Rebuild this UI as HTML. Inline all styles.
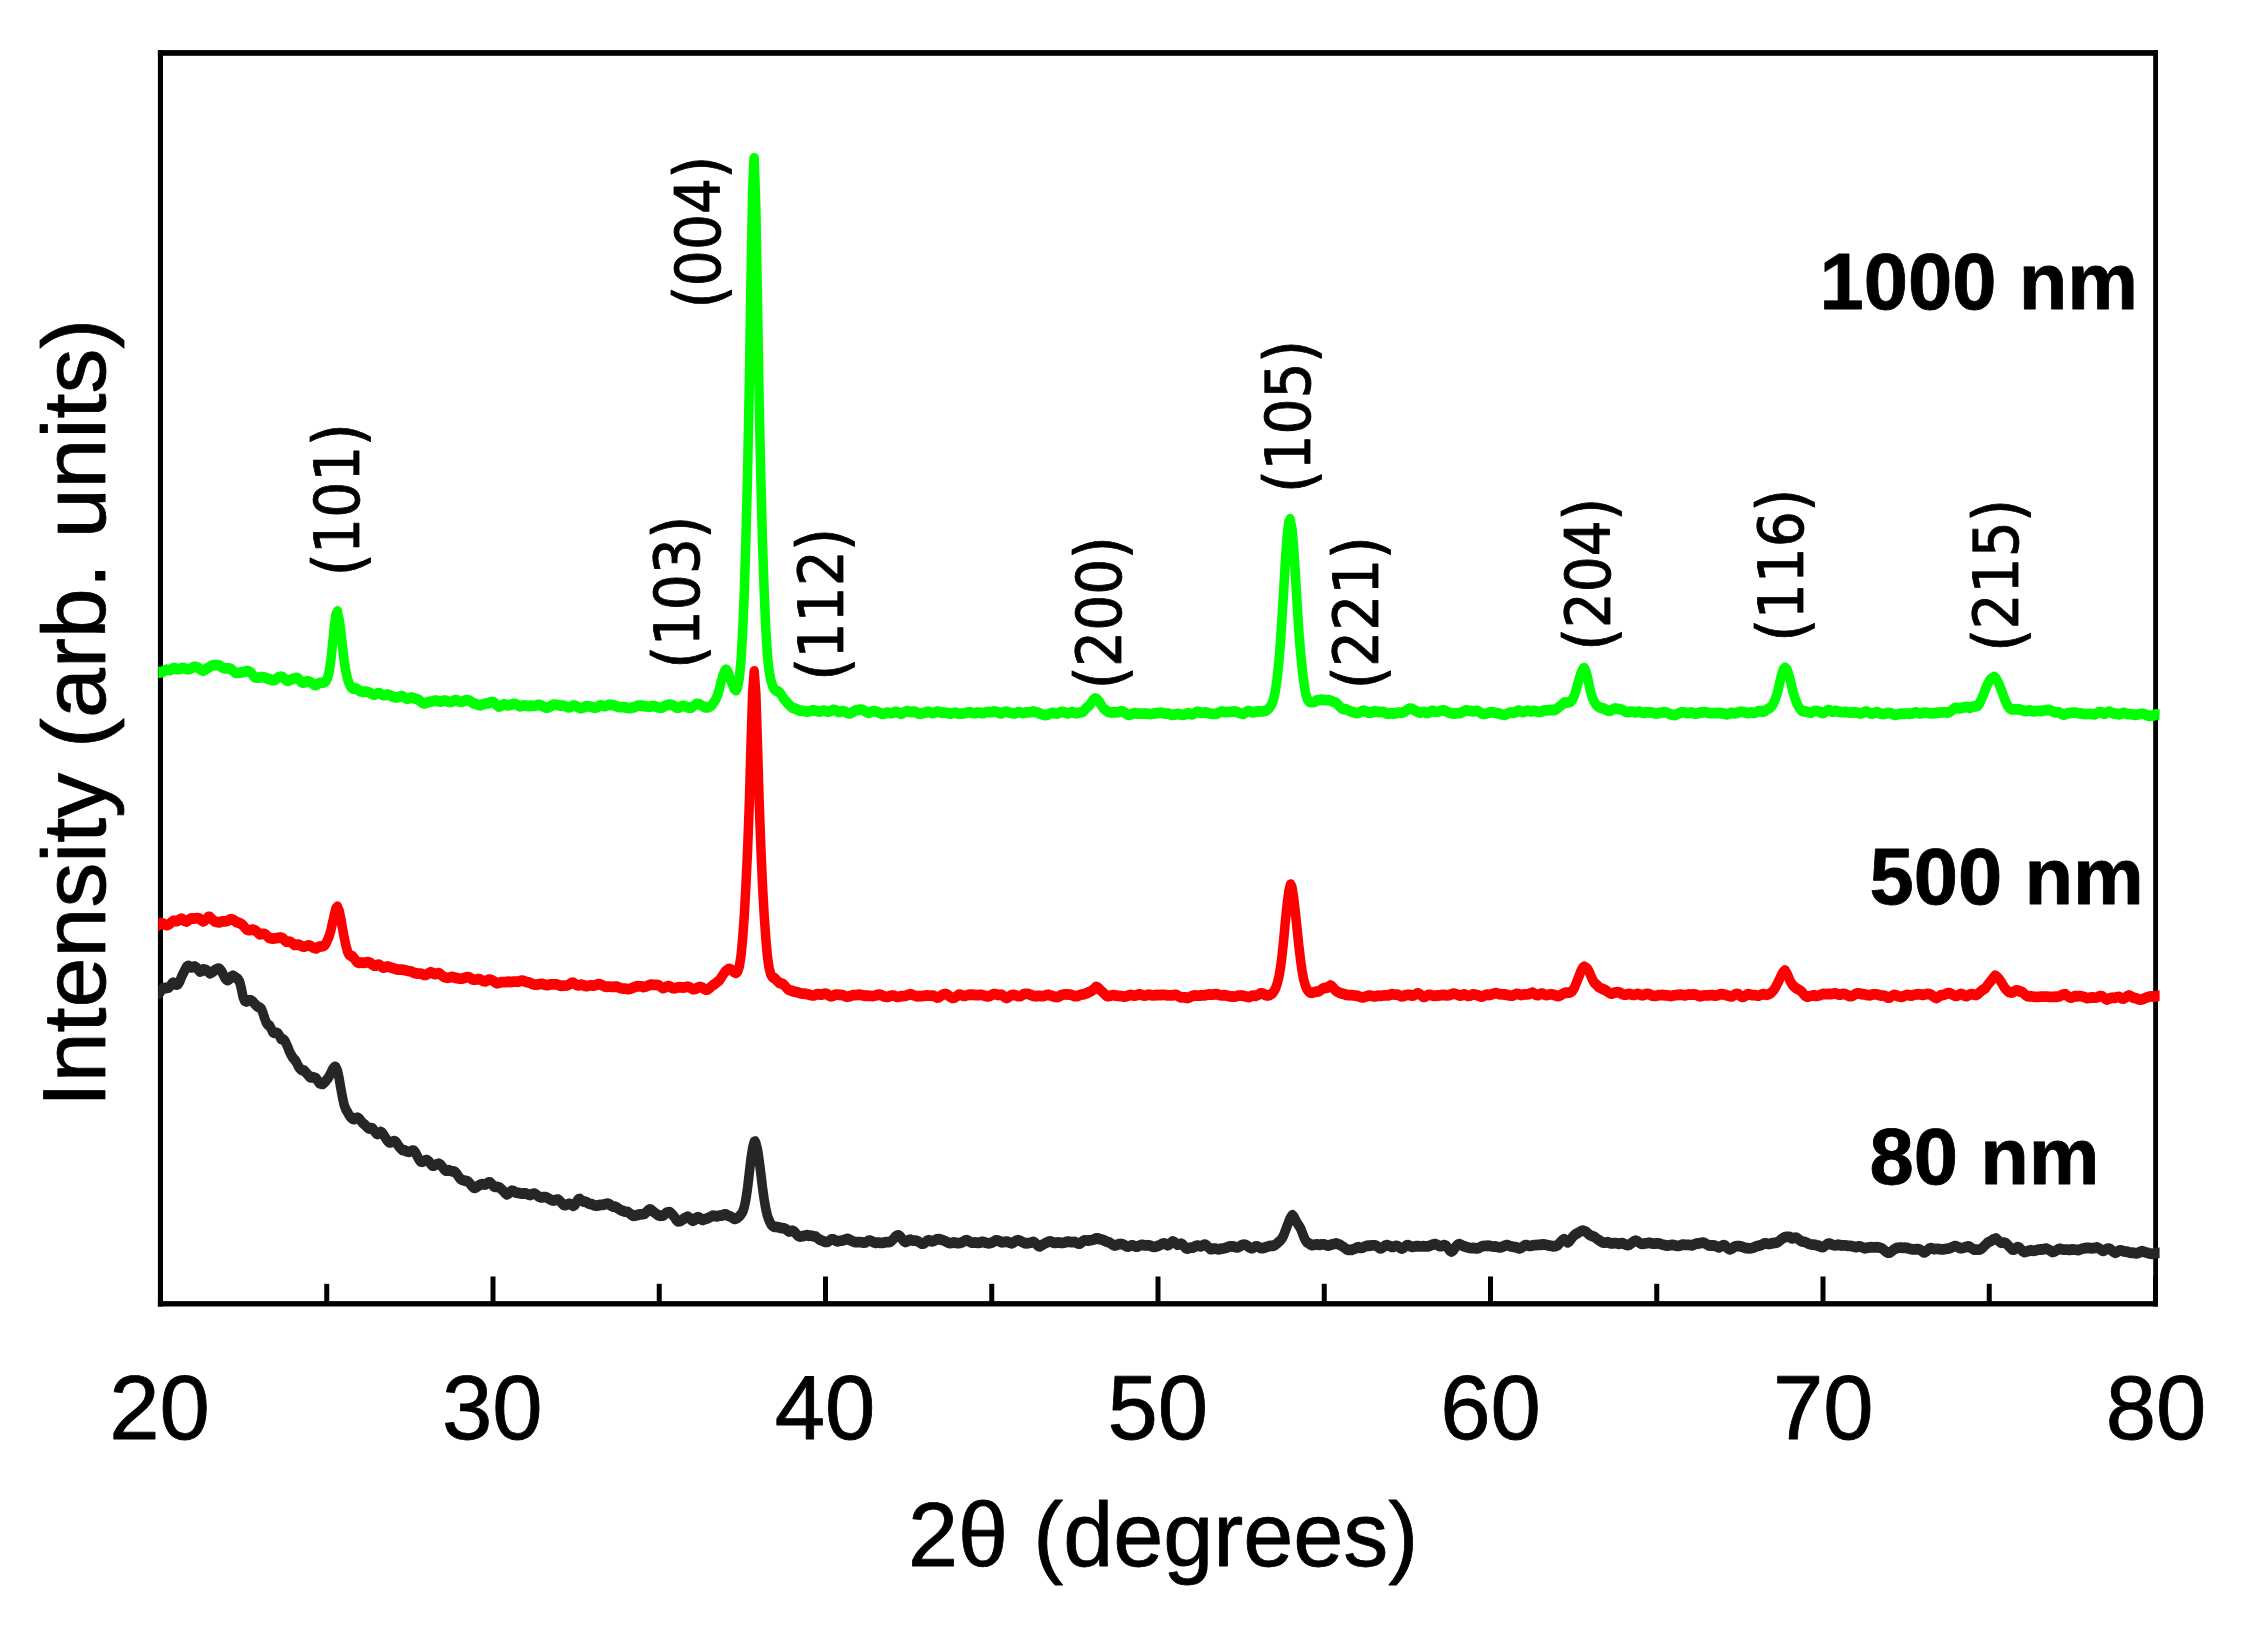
<!DOCTYPE html>
<html lang="en"><head><meta charset="utf-8"><title>XRD patterns</title>
<style>
html,body{margin:0;padding:0;background:#fff;}
body{width:2248px;height:1629px;overflow:hidden;}
svg{display:block;}
text{fill:#000;stroke:#000;stroke-width:0.8px;stroke-linejoin:round;}
.a{font-family:"Liberation Sans",Arial,Helvetica,sans-serif;}
.b{font-family:"Liberation Sans",Arial,Helvetica,sans-serif;font-weight:bold;}
.p{font-family:"DejaVu Sans Condensed","DejaVu Sans","Liberation Sans",sans-serif;font-stretch:condensed;}
</style></head><body>
<svg width="2248" height="1629" viewBox="0 0 2248 1629">
<rect x="0" y="0" width="2248" height="1629" fill="#fff"/>
<defs><clipPath id="cp"><rect x="158.3" y="40" width="2001.3" height="1270"/></clipPath></defs>
<rect x="157.9" y="50.1" width="5.1" height="1256.4" fill="#000"/>
<rect x="2153.2" y="50.1" width="4.8" height="1256.4" fill="#000"/>
<rect x="157.9" y="50.1" width="2000.1" height="5.7" fill="#000"/>
<rect x="157.9" y="1301.1" width="2000.1" height="5.4" fill="#000"/>
<rect x="158.00" y="1276.5" width="5" height="27.25" fill="#000"/>
<rect x="324.25" y="1283.8" width="5" height="19.95" fill="#000"/>
<rect x="490.50" y="1276.5" width="5" height="27.25" fill="#000"/>
<rect x="656.75" y="1283.8" width="5" height="19.95" fill="#000"/>
<rect x="823.00" y="1276.5" width="5" height="27.25" fill="#000"/>
<rect x="989.25" y="1283.8" width="5" height="19.95" fill="#000"/>
<rect x="1155.50" y="1276.5" width="5" height="27.25" fill="#000"/>
<rect x="1321.75" y="1283.8" width="5" height="19.95" fill="#000"/>
<rect x="1488.00" y="1276.5" width="5" height="27.25" fill="#000"/>
<rect x="1654.25" y="1283.8" width="5" height="19.95" fill="#000"/>
<rect x="1820.50" y="1276.5" width="5" height="27.25" fill="#000"/>
<rect x="1986.75" y="1283.8" width="5" height="19.95" fill="#000"/>
<rect x="2153.00" y="1276.5" width="5" height="27.25" fill="#000"/>
<g clip-path="url(#cp)"><g transform="scale(1,1.138)">
<path d="M150.0,875.77 L151.7,874.96 L153.3,873.83 L155.0,873.61 L156.6,873.62 L158.3,873.32 L160.0,871.96 L161.6,869.80 L163.3,868.28 L164.9,868.11 L166.6,868.19 L168.3,867.93 L169.9,866.85 L171.6,864.73 L173.2,863.62 L174.9,864.38 L176.6,865.22 L178.2,864.59 L179.9,862.13 L181.5,858.40 L183.2,855.29 L184.9,852.53 L186.5,849.81 L188.2,848.71 L189.8,849.40 L191.5,850.12 L193.2,849.57 L194.8,849.32 L196.5,850.18 L198.1,852.01 L199.8,853.79 L201.5,853.30 L203.1,851.93 L204.8,852.02 L206.4,852.53 L208.1,853.94 L209.8,855.25 L211.4,854.53 L213.1,853.72 L214.7,852.65 L216.4,851.74 L218.1,851.17 L219.7,851.52 L221.4,853.27 L223.0,855.79 L224.7,859.04 L226.4,860.95 L228.0,861.27 L229.7,860.09 L231.3,858.20 L233.0,857.40 L234.7,858.27 L236.3,859.36 L238.0,860.32 L239.6,862.62 L241.3,868.47 L243.0,875.88 L244.6,879.43 L246.3,880.05 L247.9,879.36 L249.6,878.84 L251.3,879.27 L252.9,880.17 L254.6,881.95 L256.2,883.53 L257.9,884.65 L259.6,885.31 L261.2,886.35 L262.9,889.86 L264.5,894.51 L266.2,898.50 L267.9,900.51 L269.5,901.25 L271.2,904.02 L272.8,906.95 L274.5,907.58 L276.2,907.62 L277.8,907.94 L279.5,910.21 L281.1,912.99 L282.8,913.27 L284.5,914.23 L286.1,916.83 L287.8,920.16 L289.4,923.90 L291.1,926.91 L292.8,929.40 L294.4,930.90 L296.1,932.88 L297.7,935.94 L299.4,938.37 L301.1,940.04 L302.7,940.45 L304.4,940.93 L306.0,942.57 L307.7,944.25 L309.4,946.11 L311.0,946.79 L312.7,946.55 L314.3,946.96 L316.0,947.49 L317.7,949.60 L319.3,951.70 L321.0,952.22 L322.6,952.47 L324.3,951.33 L326.0,949.70 L327.6,947.91 L329.3,945.57 L330.9,942.72 L332.6,939.67 L334.3,937.90 L334.8,937.48 L335.9,937.76 L337.6,941.41 L339.2,948.00 L340.9,956.69 L342.6,964.85 L344.2,971.10 L345.9,974.89 L347.5,977.21 L349.2,980.03 L350.9,981.87 L352.5,983.05 L354.2,983.47 L355.8,982.46 L357.5,982.22 L359.2,982.96 L360.8,984.69 L362.5,986.75 L364.1,987.91 L365.8,989.15 L367.5,990.73 L369.1,991.62 L370.8,991.29 L372.4,991.44 L374.1,993.44 L375.8,995.55 L377.4,996.45 L379.1,995.70 L380.7,994.66 L382.4,995.63 L384.1,997.88 L385.7,1000.14 L387.4,1002.36 L389.0,1003.74 L390.7,1003.85 L392.4,1003.37 L394.0,1002.78 L395.7,1003.07 L397.3,1005.11 L399.0,1007.54 L400.7,1009.27 L402.3,1010.49 L404.0,1010.79 L405.6,1011.25 L407.3,1012.06 L409.0,1012.16 L410.6,1011.72 L412.3,1011.15 L413.9,1011.20 L415.6,1013.01 L417.3,1016.04 L418.9,1018.80 L420.6,1020.60 L422.2,1020.87 L423.9,1020.15 L425.6,1019.49 L427.2,1019.47 L428.9,1020.61 L430.5,1022.60 L432.2,1024.23 L433.9,1024.30 L435.5,1023.56 L437.2,1023.03 L438.8,1022.63 L440.5,1023.38 L442.2,1025.21 L443.8,1027.10 L445.5,1028.61 L447.1,1028.75 L448.8,1028.36 L450.5,1028.88 L452.1,1029.30 L453.8,1029.37 L455.4,1030.08 L457.1,1031.83 L458.8,1034.19 L460.4,1035.95 L462.1,1036.76 L463.7,1037.21 L465.4,1037.76 L467.1,1037.95 L468.7,1038.73 L470.4,1040.57 L472.0,1042.33 L473.7,1043.57 L475.4,1043.78 L477.0,1042.92 L478.7,1041.79 L480.3,1040.99 L482.0,1040.50 L483.7,1040.67 L485.3,1040.84 L487.0,1039.90 L488.6,1038.93 L490.3,1039.09 L492.0,1040.59 L493.6,1042.48 L495.3,1043.03 L496.9,1042.99 L498.6,1043.32 L500.3,1044.00 L501.9,1045.32 L503.6,1046.78 L505.2,1048.52 L506.9,1049.57 L508.6,1048.81 L510.2,1047.33 L511.9,1046.29 L513.5,1046.64 L515.2,1047.79 L516.9,1048.15 L518.5,1048.22 L520.2,1048.57 L521.8,1048.79 L523.5,1048.78 L525.2,1048.64 L526.8,1048.98 L528.5,1049.83 L530.1,1050.07 L531.8,1049.35 L533.5,1048.83 L535.1,1049.14 L536.8,1050.06 L538.4,1051.25 L540.1,1052.05 L541.8,1052.16 L543.4,1051.90 L545.1,1051.89 L546.7,1052.28 L548.4,1053.03 L550.1,1053.84 L551.7,1054.61 L553.4,1055.01 L555.0,1054.63 L556.7,1054.13 L558.4,1054.27 L560.0,1055.46 L561.7,1057.15 L563.3,1058.55 L565.0,1059.06 L566.7,1058.58 L568.3,1057.99 L570.0,1057.95 L571.6,1058.81 L573.3,1059.59 L575.0,1058.63 L576.6,1056.13 L578.3,1053.91 L579.9,1053.61 L581.6,1054.90 L583.3,1055.80 L584.9,1055.94 L586.6,1056.44 L588.2,1057.35 L589.9,1057.87 L591.6,1058.15 L593.2,1058.75 L594.9,1059.31 L596.5,1059.53 L598.2,1059.26 L599.9,1058.85 L601.5,1058.74 L603.2,1058.64 L604.8,1058.26 L606.5,1057.90 L608.2,1057.68 L609.8,1058.35 L611.5,1059.75 L613.1,1060.29 L614.8,1060.39 L616.5,1060.98 L618.1,1061.83 L619.8,1062.83 L621.4,1063.68 L623.1,1064.05 L624.8,1064.62 L626.4,1064.81 L628.1,1065.12 L629.7,1066.21 L631.4,1067.44 L633.1,1068.41 L634.7,1068.27 L636.4,1067.88 L638.0,1067.53 L639.7,1067.17 L641.4,1067.03 L643.0,1066.94 L644.7,1066.61 L646.3,1065.35 L648.0,1063.73 L649.7,1062.75 L651.3,1063.12 L653.0,1064.50 L654.6,1065.64 L656.3,1066.64 L658.0,1067.75 L659.6,1068.29 L661.3,1068.31 L662.9,1068.16 L664.6,1067.10 L666.3,1065.86 L667.9,1065.30 L669.6,1065.08 L671.2,1066.09 L672.9,1067.79 L674.6,1069.56 L676.2,1071.91 L677.9,1073.32 L679.5,1073.14 L681.2,1072.63 L682.9,1071.60 L684.5,1070.50 L686.2,1069.72 L687.8,1069.23 L689.5,1070.23 L691.2,1071.89 L692.8,1072.77 L694.5,1072.05 L696.1,1070.29 L697.8,1069.57 L699.5,1070.07 L701.1,1071.38 L702.8,1072.06 L704.4,1071.44 L706.1,1071.01 L707.8,1070.53 L709.4,1069.87 L711.1,1068.99 L712.7,1068.31 L714.4,1068.43 L716.1,1068.78 L717.7,1068.74 L719.4,1068.19 L721.0,1068.12 L722.7,1067.94 L723.4,1067.50 L724.4,1067.17 L726.0,1067.23 L727.7,1068.02 L729.3,1068.70 L731.0,1069.20 L732.7,1070.28 L734.3,1071.05 L736.0,1070.79 L737.6,1070.11 L739.3,1068.80 L741.0,1067.22 L742.6,1064.95 L744.3,1060.74 L745.9,1053.91 L747.6,1043.56 L749.3,1030.73 L750.9,1018.35 L752.6,1008.86 L754.2,1003.47 L755.2,1003.14 L755.9,1004.55 L757.6,1010.54 L759.2,1020.07 L760.9,1031.60 L762.5,1043.52 L764.2,1054.23 L765.9,1062.79 L767.5,1068.54 L769.2,1072.60 L770.8,1075.53 L772.5,1077.25 L774.2,1078.06 L775.8,1078.14 L777.5,1078.23 L779.1,1078.58 L780.8,1078.96 L782.5,1079.28 L784.1,1079.48 L785.8,1080.01 L787.4,1081.22 L789.1,1082.18 L790.8,1081.90 L792.4,1081.52 L794.1,1082.20 L795.7,1083.70 L797.4,1085.44 L799.1,1086.44 L800.7,1086.54 L802.4,1086.30 L804.0,1086.01 L805.7,1085.54 L807.4,1085.43 L809.0,1085.87 L810.7,1085.83 L812.3,1086.12 L814.0,1086.45 L815.7,1086.69 L817.3,1087.88 L819.0,1088.95 L820.6,1089.67 L822.3,1090.33 L824.0,1090.99 L825.6,1091.37 L827.3,1091.25 L828.9,1090.65 L830.6,1089.47 L832.3,1089.03 L833.9,1089.33 L835.6,1090.13 L837.2,1090.84 L838.9,1090.50 L840.6,1090.28 L842.2,1090.09 L843.9,1089.67 L845.5,1089.18 L847.2,1088.69 L848.9,1089.00 L850.5,1089.89 L852.2,1090.60 L853.8,1091.13 L855.5,1091.54 L857.2,1091.51 L858.8,1091.44 L860.5,1091.54 L862.1,1091.66 L863.8,1091.91 L865.5,1091.80 L867.1,1090.99 L868.8,1090.12 L870.4,1090.22 L872.1,1090.93 L873.8,1091.74 L875.4,1092.17 L877.1,1091.88 L878.7,1091.91 L880.4,1092.15 L882.1,1092.22 L883.7,1091.93 L885.4,1091.59 L887.0,1091.55 L888.7,1091.50 L890.4,1091.18 L892.0,1089.97 L893.7,1088.34 L895.3,1086.81 L897.0,1085.82 L898.7,1085.63 L900.3,1086.58 L902.0,1088.66 L903.6,1090.50 L905.3,1091.36 L907.0,1090.97 L908.6,1089.81 L910.3,1089.34 L911.9,1089.89 L913.6,1090.14 L915.3,1090.18 L916.9,1090.51 L918.6,1091.05 L920.2,1092.16 L921.9,1092.88 L923.6,1092.75 L925.2,1091.85 L926.9,1090.46 L928.5,1089.76 L930.2,1090.18 L931.9,1090.82 L933.5,1090.53 L935.2,1089.73 L936.8,1089.13 L938.5,1088.94 L940.2,1089.17 L941.8,1089.48 L943.5,1089.96 L945.1,1090.66 L946.8,1091.37 L948.5,1092.07 L950.1,1092.36 L951.8,1092.11 L953.4,1091.81 L955.1,1091.95 L956.8,1092.33 L958.4,1092.40 L960.1,1092.22 L961.7,1091.76 L963.4,1091.03 L965.1,1090.15 L966.7,1089.74 L968.4,1090.30 L970.0,1091.31 L971.7,1091.90 L973.4,1091.88 L975.0,1091.82 L976.7,1091.87 L978.3,1092.11 L980.0,1091.97 L981.7,1091.32 L983.3,1091.31 L985.0,1091.76 L986.6,1092.21 L988.3,1092.55 L990.0,1092.31 L991.6,1091.97 L993.3,1091.36 L994.9,1090.38 L996.6,1089.94 L998.3,1090.09 L999.9,1090.89 L1001.6,1091.64 L1003.2,1091.57 L1004.9,1091.31 L1006.6,1091.12 L1008.2,1091.28 L1009.9,1092.12 L1011.5,1092.49 L1013.2,1091.94 L1014.9,1091.02 L1016.5,1090.12 L1018.2,1089.86 L1019.8,1090.22 L1021.5,1091.06 L1023.2,1091.79 L1024.8,1092.35 L1026.5,1092.59 L1028.1,1092.29 L1029.8,1092.12 L1031.5,1091.75 L1033.1,1091.29 L1034.8,1091.88 L1036.4,1093.33 L1038.1,1094.77 L1039.8,1095.29 L1041.4,1094.49 L1043.1,1093.52 L1044.7,1092.79 L1046.4,1092.00 L1048.1,1091.27 L1049.7,1090.92 L1051.4,1091.13 L1053.0,1091.81 L1054.7,1092.19 L1056.4,1091.91 L1058.0,1091.85 L1059.7,1091.91 L1061.3,1092.14 L1063.0,1092.22 L1064.7,1091.85 L1066.3,1091.31 L1068.0,1091.04 L1069.6,1091.27 L1071.3,1091.49 L1073.0,1091.50 L1074.6,1091.36 L1076.3,1091.90 L1077.9,1092.70 L1079.6,1092.85 L1081.3,1091.97 L1082.9,1090.59 L1084.6,1089.99 L1086.2,1090.01 L1087.9,1090.13 L1089.6,1089.90 L1091.2,1089.69 L1092.9,1089.41 L1094.5,1088.90 L1096.0,1088.68 L1096.2,1088.17 L1097.9,1088.29 L1099.5,1088.85 L1101.2,1089.03 L1102.8,1089.52 L1104.5,1090.19 L1106.2,1090.90 L1107.8,1091.43 L1109.5,1091.90 L1111.1,1092.80 L1112.8,1093.80 L1114.5,1094.46 L1116.1,1094.29 L1117.8,1093.62 L1119.4,1093.19 L1121.1,1093.13 L1122.8,1093.41 L1124.4,1094.19 L1126.1,1095.05 L1127.7,1095.42 L1129.4,1095.08 L1131.1,1094.44 L1132.7,1094.31 L1134.4,1094.90 L1136.0,1095.50 L1137.7,1095.37 L1139.4,1094.60 L1141.0,1093.92 L1142.7,1093.94 L1144.3,1094.32 L1146.0,1094.45 L1147.7,1094.25 L1149.3,1094.41 L1151.0,1094.91 L1152.6,1095.42 L1154.3,1095.68 L1156.0,1095.29 L1157.6,1094.85 L1159.3,1094.44 L1160.9,1093.60 L1162.6,1092.73 L1164.3,1092.61 L1165.9,1093.39 L1167.6,1094.21 L1169.2,1093.67 L1170.9,1091.98 L1172.6,1090.82 L1174.2,1091.27 L1175.9,1092.66 L1177.5,1093.73 L1179.2,1093.53 L1180.9,1092.87 L1182.5,1093.40 L1184.2,1095.15 L1185.8,1096.89 L1187.5,1097.18 L1189.2,1096.65 L1190.8,1096.38 L1192.5,1096.40 L1194.1,1095.93 L1195.8,1094.88 L1197.5,1094.50 L1199.1,1094.87 L1200.8,1095.18 L1202.4,1094.61 L1204.1,1093.81 L1205.8,1093.97 L1207.4,1095.09 L1209.1,1096.60 L1210.7,1097.67 L1212.4,1097.62 L1214.1,1097.18 L1215.7,1097.26 L1217.4,1097.62 L1219.0,1097.78 L1220.7,1097.44 L1222.4,1097.11 L1224.0,1096.93 L1225.7,1096.60 L1227.3,1096.06 L1229.0,1095.45 L1230.7,1095.19 L1232.3,1095.22 L1234.0,1095.46 L1235.6,1095.97 L1237.3,1096.16 L1239.0,1095.69 L1240.6,1094.72 L1242.3,1094.00 L1243.9,1093.81 L1245.6,1093.92 L1247.3,1094.71 L1248.9,1095.83 L1250.6,1096.67 L1252.2,1096.86 L1253.9,1096.06 L1255.6,1095.28 L1257.2,1095.35 L1258.9,1095.90 L1260.5,1096.60 L1262.2,1096.87 L1263.9,1096.61 L1265.5,1096.02 L1267.2,1095.52 L1268.8,1095.18 L1270.5,1094.81 L1272.2,1094.82 L1273.8,1094.56 L1275.5,1093.69 L1277.1,1092.60 L1278.8,1091.32 L1280.5,1089.89 L1282.1,1088.17 L1283.8,1085.24 L1285.4,1081.41 L1287.1,1077.43 L1288.8,1073.48 L1290.4,1070.14 L1292.1,1068.08 L1292.4,1067.93 L1293.7,1069.10 L1295.4,1071.82 L1297.1,1074.69 L1298.7,1076.74 L1300.4,1079.13 L1302.0,1082.64 L1303.7,1086.53 L1305.4,1089.85 L1307.0,1091.67 L1308.7,1092.45 L1310.3,1093.51 L1312.0,1094.12 L1313.7,1093.98 L1315.3,1093.60 L1317.0,1093.47 L1318.6,1093.83 L1320.3,1093.84 L1322.0,1093.46 L1323.6,1093.43 L1325.3,1093.81 L1326.9,1094.36 L1328.6,1094.53 L1330.3,1094.10 L1331.9,1093.53 L1333.6,1093.17 L1335.2,1092.93 L1335.7,1092.67 L1336.9,1092.84 L1338.6,1093.27 L1340.2,1093.98 L1341.9,1094.93 L1343.5,1095.74 L1345.2,1096.84 L1346.9,1097.98 L1348.5,1098.25 L1350.2,1098.29 L1351.8,1098.21 L1353.5,1097.69 L1355.2,1097.13 L1356.8,1096.30 L1358.5,1095.98 L1360.1,1096.48 L1361.8,1096.60 L1363.5,1096.05 L1365.1,1095.38 L1366.8,1094.74 L1368.4,1094.62 L1370.1,1094.66 L1371.8,1094.38 L1373.4,1094.29 L1375.1,1094.38 L1376.7,1094.82 L1378.4,1095.94 L1380.1,1096.90 L1381.7,1096.73 L1383.4,1095.78 L1385.0,1094.61 L1386.7,1094.15 L1388.4,1094.54 L1390.0,1095.07 L1391.7,1095.60 L1393.3,1095.63 L1395.0,1095.09 L1396.7,1094.88 L1398.3,1095.37 L1400.0,1096.43 L1401.6,1097.14 L1403.3,1096.65 L1405.0,1095.38 L1406.6,1094.35 L1408.3,1094.17 L1409.9,1094.83 L1411.6,1095.55 L1413.3,1095.60 L1414.9,1095.30 L1416.6,1095.10 L1418.2,1095.08 L1419.9,1095.20 L1421.6,1095.15 L1423.2,1095.09 L1424.9,1095.21 L1426.5,1095.27 L1428.2,1095.16 L1429.9,1094.69 L1431.5,1094.01 L1433.2,1093.56 L1434.8,1093.26 L1436.5,1093.62 L1438.2,1094.47 L1439.8,1094.93 L1441.5,1095.04 L1443.1,1094.44 L1444.8,1094.19 L1446.5,1095.06 L1448.1,1096.75 L1449.8,1098.93 L1451.4,1099.86 L1453.1,1098.91 L1454.8,1096.88 L1456.4,1094.77 L1458.1,1093.60 L1459.7,1093.32 L1461.4,1093.99 L1463.1,1094.93 L1464.7,1095.33 L1466.4,1095.78 L1468.0,1096.18 L1469.7,1096.56 L1471.4,1096.72 L1473.0,1096.60 L1474.7,1096.74 L1476.3,1097.03 L1478.0,1097.00 L1479.7,1096.23 L1481.3,1095.43 L1483.0,1095.00 L1484.6,1094.80 L1486.3,1094.76 L1488.0,1094.70 L1489.6,1094.77 L1491.3,1095.12 L1492.9,1095.37 L1494.6,1095.30 L1496.3,1095.47 L1497.9,1095.86 L1499.6,1096.10 L1501.2,1096.03 L1502.9,1095.40 L1504.6,1094.59 L1506.2,1094.18 L1507.9,1094.24 L1509.5,1094.80 L1511.2,1095.30 L1512.9,1095.57 L1514.5,1095.82 L1516.2,1095.94 L1517.8,1096.61 L1519.5,1097.04 L1521.2,1096.50 L1522.8,1095.63 L1524.5,1094.43 L1526.1,1094.09 L1527.8,1094.53 L1529.5,1094.76 L1531.1,1094.71 L1532.8,1094.37 L1534.4,1094.17 L1536.1,1094.08 L1537.8,1093.97 L1539.4,1093.91 L1541.1,1093.80 L1542.7,1093.52 L1544.4,1093.60 L1546.1,1093.86 L1547.7,1094.19 L1549.4,1094.67 L1551.0,1094.85 L1552.7,1095.12 L1554.4,1095.16 L1556.0,1094.79 L1557.7,1094.20 L1559.3,1092.75 L1561.0,1090.93 L1562.7,1089.46 L1564.3,1088.92 L1566.0,1089.81 L1567.0,1091.10 L1567.6,1091.67 L1569.3,1090.83 L1571.0,1088.91 L1572.6,1087.01 L1574.3,1085.49 L1575.9,1084.38 L1577.6,1083.64 L1579.3,1082.71 L1580.9,1081.88 L1582.6,1081.46 L1583.7,1081.61 L1584.2,1081.83 L1585.9,1082.28 L1587.6,1083.52 L1589.2,1084.91 L1590.9,1085.74 L1592.5,1086.37 L1594.2,1086.77 L1595.9,1087.76 L1597.5,1089.05 L1599.2,1089.82 L1600.8,1090.93 L1602.5,1091.76 L1604.2,1092.02 L1605.8,1091.84 L1607.5,1091.61 L1609.1,1092.09 L1610.8,1092.62 L1612.5,1092.68 L1614.1,1092.45 L1615.8,1092.41 L1617.4,1092.70 L1619.1,1092.98 L1620.8,1092.61 L1622.4,1092.37 L1624.1,1093.00 L1625.7,1093.71 L1627.4,1094.12 L1629.1,1093.84 L1630.7,1092.86 L1632.4,1091.73 L1634.0,1090.72 L1635.7,1090.29 L1637.4,1090.81 L1639.0,1091.79 L1640.7,1092.70 L1642.3,1093.11 L1644.0,1092.81 L1645.7,1092.52 L1647.3,1092.32 L1649.0,1092.05 L1650.6,1092.34 L1652.3,1092.78 L1654.0,1092.90 L1655.6,1092.84 L1657.3,1092.61 L1658.9,1092.63 L1660.6,1093.19 L1662.3,1093.67 L1663.9,1093.85 L1665.6,1094.41 L1667.2,1094.62 L1668.9,1094.28 L1670.6,1094.08 L1672.2,1093.91 L1673.9,1094.14 L1675.5,1094.61 L1677.2,1094.82 L1678.9,1094.81 L1680.5,1094.30 L1682.2,1093.77 L1683.8,1093.78 L1685.5,1093.87 L1687.2,1093.87 L1688.8,1093.95 L1690.5,1094.23 L1692.1,1094.35 L1693.8,1093.78 L1695.5,1093.02 L1697.1,1092.69 L1698.8,1092.73 L1700.4,1092.45 L1702.1,1091.90 L1703.8,1091.95 L1705.4,1092.62 L1707.1,1093.62 L1708.7,1094.44 L1710.4,1094.53 L1712.1,1094.30 L1713.7,1094.38 L1715.4,1094.79 L1717.0,1095.53 L1718.7,1096.09 L1720.4,1095.49 L1722.0,1094.63 L1723.7,1094.16 L1725.3,1094.65 L1727.0,1096.28 L1728.7,1097.51 L1730.3,1097.84 L1732.0,1097.15 L1733.6,1096.00 L1735.3,1095.22 L1737.0,1094.96 L1738.6,1094.93 L1740.3,1095.19 L1741.9,1095.62 L1743.6,1096.08 L1745.3,1096.68 L1746.9,1096.82 L1748.6,1096.89 L1750.2,1096.91 L1751.9,1096.66 L1753.6,1096.32 L1755.2,1095.60 L1756.9,1094.97 L1758.5,1094.68 L1760.2,1094.40 L1761.9,1093.82 L1763.5,1093.00 L1765.2,1092.58 L1766.8,1092.82 L1768.5,1093.13 L1770.2,1092.96 L1771.8,1092.59 L1773.5,1092.27 L1775.1,1092.14 L1776.8,1091.88 L1778.5,1091.14 L1780.1,1089.95 L1781.8,1088.65 L1783.4,1087.67 L1785.1,1087.08 L1786.8,1086.89 L1788.4,1086.84 L1790.1,1087.14 L1791.5,1087.87 L1791.7,1088.15 L1793.4,1087.96 L1795.1,1087.62 L1796.7,1087.74 L1798.4,1088.78 L1800.0,1090.01 L1801.7,1090.85 L1803.4,1091.14 L1805.0,1091.43 L1806.7,1092.03 L1808.3,1092.79 L1810.0,1093.34 L1811.7,1093.60 L1813.3,1093.74 L1815.0,1093.90 L1816.6,1094.28 L1818.3,1094.55 L1820.0,1095.22 L1821.6,1095.95 L1823.3,1095.73 L1824.9,1094.82 L1826.6,1093.69 L1828.3,1092.78 L1829.9,1092.84 L1831.6,1093.61 L1833.2,1094.03 L1834.9,1094.27 L1836.6,1094.14 L1838.2,1093.78 L1839.9,1094.14 L1841.5,1094.46 L1843.2,1094.41 L1844.9,1094.35 L1846.5,1094.51 L1848.2,1094.87 L1849.8,1094.81 L1851.5,1094.96 L1853.2,1095.34 L1854.8,1095.73 L1856.5,1095.91 L1858.1,1095.27 L1859.8,1095.19 L1861.5,1095.77 L1863.1,1096.37 L1864.8,1096.87 L1866.4,1096.60 L1868.1,1096.29 L1869.8,1096.09 L1871.4,1095.91 L1873.1,1096.04 L1874.7,1096.03 L1876.4,1095.99 L1878.1,1096.15 L1879.7,1096.33 L1881.4,1096.77 L1883.0,1097.70 L1884.7,1098.91 L1886.4,1100.19 L1888.0,1100.83 L1889.7,1100.63 L1891.3,1099.87 L1893.0,1098.71 L1894.7,1097.55 L1896.3,1096.79 L1898.0,1096.49 L1899.6,1096.27 L1901.3,1096.39 L1903.0,1096.56 L1904.6,1096.45 L1906.3,1096.51 L1907.9,1096.77 L1909.6,1097.34 L1911.3,1097.75 L1912.9,1097.94 L1914.6,1097.95 L1916.2,1097.64 L1917.9,1097.69 L1919.6,1098.03 L1921.2,1098.85 L1922.9,1100.12 L1924.5,1100.55 L1926.2,1099.70 L1927.9,1098.24 L1929.5,1097.07 L1931.2,1096.77 L1932.8,1097.35 L1934.5,1097.58 L1936.2,1097.42 L1937.8,1097.50 L1939.5,1097.61 L1941.1,1097.88 L1942.8,1097.84 L1944.5,1097.68 L1946.1,1097.52 L1947.8,1097.25 L1949.4,1096.94 L1951.1,1096.38 L1952.8,1095.75 L1954.4,1095.06 L1956.1,1095.01 L1957.7,1095.68 L1959.4,1096.54 L1961.1,1096.88 L1962.7,1096.57 L1964.4,1096.20 L1966.0,1095.71 L1967.7,1095.30 L1969.4,1095.54 L1971.0,1096.46 L1972.7,1097.45 L1974.3,1098.06 L1976.0,1098.17 L1977.7,1098.10 L1979.3,1098.08 L1981.0,1097.64 L1982.6,1096.37 L1984.3,1094.81 L1986.0,1093.40 L1987.6,1092.03 L1989.3,1091.25 L1990.9,1090.55 L1992.6,1089.51 L1994.3,1088.86 L1995.9,1088.29 L1996.2,1088.38 L1997.6,1089.42 L1999.2,1090.86 L2000.9,1091.89 L2002.6,1091.98 L2004.2,1091.95 L2005.9,1092.45 L2007.5,1093.79 L2009.2,1095.36 L2010.9,1096.87 L2012.5,1098.13 L2014.2,1098.15 L2015.8,1097.02 L2017.5,1095.91 L2019.2,1096.22 L2020.8,1097.75 L2022.5,1099.35 L2024.1,1100.20 L2025.8,1100.06 L2027.5,1099.59 L2029.1,1098.99 L2030.8,1098.61 L2032.4,1098.92 L2034.1,1099.09 L2035.8,1098.75 L2037.4,1098.32 L2039.1,1098.09 L2040.7,1097.98 L2042.4,1097.99 L2044.1,1097.71 L2045.7,1097.16 L2047.4,1097.55 L2049.0,1098.35 L2050.7,1099.22 L2052.4,1100.16 L2054.0,1099.91 L2055.7,1099.10 L2057.3,1098.28 L2059.0,1097.45 L2060.7,1097.49 L2062.3,1097.87 L2064.0,1098.00 L2065.6,1098.08 L2067.3,1098.09 L2069.0,1098.27 L2070.6,1098.19 L2072.3,1097.85 L2073.9,1098.06 L2075.6,1098.18 L2077.3,1098.42 L2078.9,1098.40 L2080.6,1097.70 L2082.2,1097.33 L2083.9,1097.03 L2085.6,1096.67 L2087.2,1096.68 L2088.9,1096.64 L2090.5,1096.69 L2092.2,1096.89 L2093.9,1096.78 L2095.5,1096.44 L2097.2,1096.19 L2098.8,1096.81 L2100.5,1097.94 L2102.2,1098.95 L2103.8,1099.14 L2105.5,1098.23 L2107.1,1097.41 L2108.8,1097.15 L2110.5,1097.81 L2112.1,1099.06 L2113.8,1100.22 L2115.4,1100.87 L2117.1,1100.19 L2118.8,1099.08 L2120.4,1098.73 L2122.1,1099.06 L2123.7,1099.60 L2125.4,1099.77 L2127.1,1099.92 L2128.7,1100.40 L2130.4,1100.82 L2132.0,1100.74 L2133.7,1100.93 L2135.4,1101.34 L2137.0,1101.31 L2138.7,1100.83 L2140.3,1099.88 L2142.0,1099.47 L2143.7,1099.89 L2145.3,1100.44 L2147.0,1100.78 L2148.6,1101.28 L2150.3,1101.61 L2152.0,1101.72 L2153.6,1101.76 L2155.3,1101.26 L2156.9,1100.97 L2158.6,1101.00 L2160.3,1100.94 L2161.9,1101.07 L2163.6,1101.13 L2165.2,1100.92 L2166.9,1100.48 L2168.6,1099.97" stroke="#262626" fill="none" stroke-width="9.5" stroke-linejoin="round" stroke-linecap="butt"/>
<path d="M150.0,815.50 L151.7,814.78 L153.3,814.61 L155.0,814.47 L156.6,814.03 L158.3,812.93 L160.0,811.36 L161.6,811.09 L163.3,811.76 L164.9,812.43 L166.6,813.00 L168.3,812.58 L169.9,811.59 L171.6,810.33 L173.2,809.22 L174.9,809.25 L176.6,809.47 L178.2,808.92 L179.9,807.85 L181.5,807.31 L183.2,808.15 L184.9,809.38 L186.5,809.77 L188.2,808.99 L189.8,807.69 L191.5,807.06 L193.2,807.14 L194.8,807.12 L196.5,806.92 L198.1,806.87 L199.8,807.37 L201.5,808.82 L203.1,809.55 L204.8,809.00 L206.4,807.53 L208.1,805.78 L209.8,805.72 L211.4,807.04 L213.1,808.60 L214.7,809.68 L216.4,810.09 L218.1,810.39 L219.7,810.40 L221.4,809.89 L223.0,809.58 L224.7,809.62 L226.4,809.45 L228.0,808.92 L229.7,808.12 L231.3,807.77 L233.0,808.20 L234.7,809.13 L236.3,810.23 L238.0,810.73 L239.6,811.10 L241.3,811.91 L243.0,813.06 L244.6,814.92 L246.3,816.49 L247.9,817.11 L249.6,817.37 L251.3,817.19 L252.9,816.94 L254.6,817.39 L256.2,818.15 L257.9,819.59 L259.6,820.95 L261.2,820.89 L262.9,820.57 L264.5,820.66 L266.2,821.61 L267.9,823.16 L269.5,824.30 L271.2,824.64 L272.8,824.77 L274.5,824.67 L276.2,824.34 L277.8,824.22 L279.5,823.98 L281.1,823.95 L282.8,824.59 L284.5,826.12 L286.1,827.47 L287.8,827.43 L289.4,827.38 L291.1,828.03 L292.8,829.23 L294.4,830.28 L296.1,830.20 L297.7,830.05 L299.4,830.35 L301.1,831.13 L302.7,831.73 L304.4,831.79 L306.0,831.46 L307.7,830.90 L309.4,830.85 L311.0,831.56 L312.7,832.49 L314.3,833.08 L316.0,833.40 L317.7,832.68 L319.3,831.88 L321.0,831.58 L322.6,831.36 L324.3,831.01 L326.0,829.11 L327.6,825.94 L329.3,822.40 L330.9,817.36 L332.6,810.65 L334.3,803.92 L335.9,798.38 L337.5,796.73 L337.6,797.45 L339.2,800.36 L340.9,807.70 L342.6,816.31 L344.2,823.88 L345.9,830.76 L347.5,835.92 L349.2,838.99 L350.9,840.05 L352.5,840.41 L354.2,842.11 L355.8,844.27 L357.5,845.79 L359.2,846.05 L360.8,845.79 L362.5,845.95 L364.1,846.14 L365.8,845.87 L367.5,845.40 L369.1,845.65 L370.8,846.44 L372.4,847.72 L374.1,848.57 L375.8,848.52 L377.4,847.93 L379.1,847.73 L380.7,848.82 L382.4,850.00 L384.1,850.26 L385.7,849.70 L387.4,849.29 L389.0,849.57 L390.7,850.16 L392.4,850.62 L394.0,851.00 L395.7,851.54 L397.3,851.94 L399.0,852.04 L400.7,852.03 L402.3,852.07 L404.0,852.35 L405.6,852.66 L407.3,853.04 L409.0,853.33 L410.6,853.53 L412.3,854.06 L413.9,854.88 L415.6,855.39 L417.3,855.46 L418.9,855.51 L420.6,855.55 L422.2,856.09 L423.9,856.67 L425.6,856.59 L427.2,856.10 L428.9,855.12 L430.5,854.34 L432.2,854.75 L433.9,855.80 L435.5,856.00 L437.2,855.44 L438.8,855.11 L440.5,855.95 L442.2,857.50 L443.8,858.36 L445.5,858.93 L447.1,859.19 L448.8,859.02 L450.5,858.75 L452.1,858.43 L453.8,858.75 L455.4,859.28 L457.1,859.57 L458.8,859.87 L460.4,859.87 L462.1,859.95 L463.7,859.65 L465.4,858.92 L467.1,858.61 L468.7,858.62 L470.4,859.37 L472.0,860.47 L473.7,860.87 L475.4,860.84 L477.0,860.66 L478.7,860.35 L480.3,860.74 L482.0,861.62 L483.7,862.14 L485.3,862.26 L487.0,861.69 L488.6,860.90 L490.3,860.90 L492.0,861.43 L493.6,862.14 L495.3,863.31 L496.9,863.99 L498.6,863.78 L500.3,863.37 L501.9,862.97 L503.6,862.99 L505.2,863.09 L506.9,862.75 L508.6,862.66 L510.2,862.90 L511.9,862.86 L513.5,862.62 L515.2,862.50 L516.9,862.68 L518.5,862.63 L520.2,861.99 L521.8,861.65 L523.5,861.92 L525.2,862.50 L526.8,863.05 L528.5,863.19 L530.1,863.66 L531.8,864.39 L533.5,864.86 L535.1,865.19 L536.8,865.25 L538.4,865.06 L540.1,864.66 L541.8,864.53 L543.4,864.87 L545.1,865.36 L546.7,865.67 L548.4,865.43 L550.1,865.04 L551.7,864.95 L553.4,865.00 L555.0,864.97 L556.7,865.08 L558.4,865.47 L560.0,866.05 L561.7,866.35 L563.3,866.19 L565.0,866.07 L566.7,865.92 L568.3,865.52 L570.0,864.69 L571.6,863.63 L573.3,863.58 L575.0,864.66 L576.6,865.52 L578.3,865.86 L579.9,865.64 L581.6,865.22 L583.3,865.67 L584.9,866.30 L586.6,866.49 L588.2,866.32 L589.9,865.89 L591.6,865.93 L593.2,866.11 L594.9,865.91 L596.5,865.45 L598.2,864.88 L599.9,864.84 L601.5,865.48 L603.2,866.22 L604.8,866.88 L606.5,867.25 L608.2,867.08 L609.8,866.95 L611.5,867.17 L613.1,867.20 L614.8,867.09 L616.5,866.97 L618.1,867.34 L619.8,868.14 L621.4,868.48 L623.1,868.66 L624.8,868.75 L626.4,868.90 L628.1,869.23 L629.7,869.05 L631.4,868.53 L633.1,867.91 L634.7,867.34 L636.4,866.82 L638.0,866.64 L639.7,866.70 L641.4,866.81 L643.0,867.30 L644.7,867.24 L646.3,866.69 L648.0,866.15 L649.7,865.35 L651.3,865.15 L653.0,865.38 L654.6,865.38 L656.3,865.45 L658.0,865.62 L659.6,866.23 L661.3,867.50 L662.9,868.32 L664.6,868.01 L666.3,867.12 L667.9,866.54 L669.6,866.76 L671.2,867.63 L672.9,868.31 L674.6,868.41 L676.2,868.14 L677.9,867.63 L679.5,867.38 L681.2,867.61 L682.9,867.83 L684.5,867.68 L686.2,867.29 L687.8,867.10 L689.5,867.50 L691.2,868.40 L692.8,869.21 L694.5,869.26 L696.1,868.75 L697.8,867.90 L699.5,867.33 L701.1,867.52 L702.8,868.11 L704.4,868.97 L706.1,869.63 L707.8,869.38 L709.4,868.38 L711.1,867.09 L712.7,865.85 L714.4,864.91 L716.1,863.76 L717.7,862.61 L719.4,861.40 L721.0,859.39 L722.7,856.99 L724.4,854.78 L726.0,853.15 L727.7,852.26 L728.0,851.76 L729.3,851.43 L731.0,851.99 L732.7,853.04 L734.3,854.31 L736.0,854.87 L737.6,853.71 L739.3,849.36 L741.0,840.04 L742.6,825.23 L744.3,804.54 L745.9,778.58 L747.6,746.80 L749.3,706.57 L750.9,656.64 L752.6,609.37 L754.2,590.20 L754.2,589.90 L755.9,610.21 L757.6,656.70 L759.2,705.37 L760.9,745.52 L762.5,777.87 L764.2,804.52 L765.9,825.60 L767.5,841.16 L769.2,851.06 L770.8,856.28 L772.5,858.75 L774.2,859.57 L775.0,859.74 L775.8,860.71 L777.5,862.26 L779.1,863.58 L780.8,864.14 L782.5,864.48 L784.1,865.54 L785.8,867.23 L787.4,868.98 L789.1,869.96 L790.8,870.32 L792.4,870.83 L794.1,871.36 L795.7,871.62 L797.4,871.98 L799.1,872.42 L800.7,872.88 L802.4,873.13 L804.0,873.10 L805.7,873.39 L807.4,873.67 L809.0,874.00 L810.7,874.51 L812.3,874.75 L814.0,874.74 L815.7,874.07 L817.3,873.53 L819.0,873.82 L820.6,874.08 L822.3,873.85 L824.0,873.39 L825.6,873.07 L827.3,873.63 L828.9,874.80 L830.6,875.49 L832.3,875.40 L833.9,874.66 L835.6,874.00 L837.2,873.94 L838.9,874.11 L840.6,874.18 L842.2,874.37 L843.9,874.87 L845.5,875.60 L847.2,875.86 L848.9,875.65 L850.5,875.20 L852.2,874.71 L853.8,874.49 L855.5,874.46 L857.2,874.32 L858.8,874.08 L860.5,874.15 L862.1,874.47 L863.8,874.88 L865.5,875.00 L867.1,874.96 L868.8,875.02 L870.4,875.18 L872.1,875.27 L873.8,875.04 L875.4,874.76 L877.1,874.35 L878.7,874.01 L880.4,874.10 L882.1,874.70 L883.7,875.38 L885.4,875.75 L887.0,876.09 L888.7,875.80 L890.4,875.15 L892.0,874.83 L893.7,874.81 L895.3,875.41 L897.0,876.03 L898.7,875.89 L900.3,875.59 L902.0,875.37 L903.6,875.29 L905.3,875.18 L907.0,874.66 L908.6,874.04 L910.3,873.62 L911.9,873.97 L913.6,874.67 L915.3,875.10 L916.9,875.43 L918.6,875.42 L920.2,875.33 L921.9,875.40 L923.6,875.16 L925.2,874.88 L926.9,874.79 L928.5,874.85 L930.2,874.98 L931.9,874.81 L933.5,874.92 L935.2,875.75 L936.8,876.52 L938.5,876.45 L940.2,875.59 L941.8,874.47 L943.5,873.75 L945.1,873.48 L946.8,873.80 L948.5,874.80 L950.1,875.93 L951.8,876.80 L953.4,876.92 L955.1,876.35 L956.8,875.36 L958.4,874.27 L960.1,873.98 L961.7,874.51 L963.4,875.08 L965.1,875.09 L966.7,874.66 L968.4,874.26 L970.0,874.06 L971.7,874.10 L973.4,874.22 L975.0,874.33 L976.7,874.48 L978.3,874.41 L980.0,874.24 L981.7,874.27 L983.3,874.63 L985.0,875.11 L986.6,875.45 L988.3,875.59 L990.0,875.13 L991.6,874.26 L993.3,873.68 L994.9,873.58 L996.6,873.91 L998.3,874.32 L999.9,874.15 L1001.6,874.11 L1003.2,875.02 L1004.9,876.35 L1006.6,877.04 L1008.2,876.43 L1009.9,875.27 L1011.5,874.45 L1013.2,874.28 L1014.9,874.47 L1016.5,874.92 L1018.2,875.38 L1019.8,875.38 L1021.5,874.89 L1023.2,873.87 L1024.8,873.40 L1026.5,873.39 L1028.1,873.37 L1029.8,873.95 L1031.5,874.51 L1033.1,874.96 L1034.8,875.41 L1036.4,875.43 L1038.1,875.15 L1039.8,875.13 L1041.4,875.24 L1043.1,875.25 L1044.7,875.01 L1046.4,874.35 L1048.1,874.12 L1049.7,874.53 L1051.4,874.97 L1053.0,875.44 L1054.7,875.91 L1056.4,876.10 L1058.0,876.02 L1059.7,875.30 L1061.3,874.39 L1063.0,874.10 L1064.7,873.82 L1066.3,873.81 L1068.0,873.88 L1069.6,873.95 L1071.3,874.25 L1073.0,874.74 L1074.6,875.36 L1076.3,875.40 L1077.9,875.08 L1079.6,874.48 L1081.3,874.00 L1082.9,873.85 L1084.6,873.44 L1086.2,872.87 L1087.9,872.24 L1089.6,871.61 L1091.2,870.90 L1092.9,869.87 L1094.5,868.68 L1095.5,867.61 L1096.2,867.16 L1097.9,867.93 L1099.5,869.24 L1101.2,870.71 L1102.8,871.98 L1104.5,873.42 L1106.2,874.90 L1107.8,875.43 L1109.5,875.20 L1111.1,874.80 L1112.8,874.48 L1114.5,874.69 L1116.1,874.96 L1117.8,875.01 L1119.4,875.22 L1121.1,875.34 L1122.8,875.49 L1124.4,875.68 L1126.1,875.47 L1127.7,874.96 L1129.4,874.51 L1131.1,874.32 L1132.7,874.60 L1134.4,874.84 L1136.0,874.71 L1137.7,874.16 L1139.4,873.63 L1141.0,874.02 L1142.7,874.60 L1144.3,874.92 L1146.0,874.76 L1147.7,874.20 L1149.3,874.06 L1151.0,874.40 L1152.6,874.61 L1154.3,874.64 L1156.0,874.43 L1157.6,874.30 L1159.3,874.45 L1160.9,874.34 L1162.6,874.23 L1164.3,874.20 L1165.9,874.35 L1167.6,874.65 L1169.2,874.65 L1170.9,874.68 L1172.6,874.69 L1174.2,874.36 L1175.9,874.29 L1177.5,874.79 L1179.2,875.77 L1180.9,876.38 L1182.5,876.43 L1184.2,876.41 L1185.8,876.54 L1187.5,876.99 L1189.2,876.60 L1190.8,875.77 L1192.5,875.13 L1194.1,874.75 L1195.8,874.88 L1197.5,874.89 L1199.1,874.87 L1200.8,874.78 L1202.4,874.71 L1204.1,874.65 L1205.8,874.38 L1207.4,874.09 L1209.1,873.88 L1210.7,874.00 L1212.4,874.05 L1214.1,873.79 L1215.7,873.52 L1217.4,873.63 L1219.0,874.23 L1220.7,874.65 L1222.4,874.60 L1224.0,874.51 L1225.7,874.68 L1227.3,875.01 L1229.0,875.41 L1230.7,875.67 L1232.3,875.64 L1234.0,875.79 L1235.6,875.65 L1237.3,875.15 L1239.0,874.93 L1240.6,874.79 L1242.3,874.85 L1243.9,875.19 L1245.6,875.56 L1247.3,875.98 L1248.9,876.09 L1250.6,875.61 L1252.2,874.96 L1253.9,874.85 L1255.6,874.99 L1257.2,874.56 L1258.9,873.73 L1260.5,872.91 L1262.2,872.93 L1263.9,873.69 L1265.5,874.41 L1267.2,874.79 L1268.8,874.52 L1270.5,874.01 L1272.2,873.06 L1273.8,871.28 L1275.5,868.60 L1277.1,864.63 L1278.8,858.83 L1280.5,850.51 L1282.1,839.10 L1283.8,824.89 L1285.4,809.47 L1287.1,794.91 L1288.8,783.13 L1290.4,777.43 L1290.8,777.34 L1292.1,780.05 L1293.7,789.28 L1295.4,802.22 L1297.1,816.36 L1298.7,830.11 L1300.4,842.58 L1302.0,852.88 L1303.7,860.83 L1305.4,866.19 L1307.0,869.24 L1308.7,871.18 L1310.3,872.25 L1312.0,872.34 L1313.7,871.97 L1315.3,871.64 L1317.0,871.43 L1318.6,871.22 L1320.3,870.37 L1322.0,869.14 L1323.6,868.37 L1325.3,868.05 L1326.9,868.01 L1328.6,867.59 L1329.0,866.67 L1330.3,866.02 L1331.9,866.68 L1333.6,868.37 L1335.2,870.10 L1336.9,871.30 L1338.6,871.92 L1340.2,872.63 L1341.9,873.16 L1343.5,873.40 L1345.2,873.91 L1346.9,874.33 L1348.5,874.49 L1350.2,874.53 L1351.8,874.40 L1353.5,874.67 L1355.2,874.88 L1356.8,874.98 L1358.5,875.45 L1360.1,875.94 L1361.8,876.46 L1363.5,876.35 L1365.1,875.85 L1366.8,875.46 L1368.4,874.96 L1370.1,874.86 L1371.8,875.15 L1373.4,875.50 L1375.1,875.58 L1376.7,875.18 L1378.4,874.94 L1380.1,875.15 L1381.7,875.06 L1383.4,874.71 L1385.0,874.60 L1386.7,874.62 L1388.4,874.62 L1390.0,874.08 L1391.7,873.61 L1393.3,873.84 L1395.0,874.00 L1396.7,873.98 L1398.3,874.39 L1400.0,875.05 L1401.6,875.52 L1403.3,875.35 L1405.0,874.67 L1406.6,874.32 L1408.3,874.22 L1409.9,874.35 L1411.6,874.78 L1413.3,874.79 L1414.9,874.08 L1416.6,873.19 L1418.2,872.93 L1419.9,873.72 L1421.6,874.96 L1423.2,875.95 L1424.9,875.97 L1426.5,875.08 L1428.2,874.28 L1429.9,874.15 L1431.5,874.61 L1433.2,874.98 L1434.8,875.00 L1436.5,874.90 L1438.2,874.77 L1439.8,874.62 L1441.5,874.38 L1443.1,874.20 L1444.8,874.45 L1446.5,874.70 L1448.1,874.58 L1449.8,874.23 L1451.4,873.58 L1453.1,873.17 L1454.8,873.34 L1456.4,873.68 L1458.1,874.32 L1459.7,874.85 L1461.4,874.65 L1463.1,874.06 L1464.7,873.87 L1466.4,874.58 L1468.0,875.19 L1469.7,875.00 L1471.4,874.30 L1473.0,873.77 L1474.7,873.99 L1476.3,874.39 L1478.0,874.71 L1479.7,875.36 L1481.3,875.82 L1483.0,875.49 L1484.6,874.81 L1486.3,874.10 L1488.0,874.02 L1489.6,874.33 L1491.3,873.95 L1492.9,873.37 L1494.6,872.88 L1496.3,872.69 L1497.9,873.15 L1499.6,873.60 L1501.2,873.71 L1502.9,873.83 L1504.6,873.89 L1506.2,874.08 L1507.9,874.48 L1509.5,874.71 L1511.2,874.88 L1512.9,874.83 L1514.5,874.15 L1516.2,873.39 L1517.8,873.32 L1519.5,873.90 L1521.2,874.34 L1522.8,874.14 L1524.5,873.79 L1526.1,873.74 L1527.8,873.77 L1529.5,873.37 L1531.1,872.56 L1532.8,872.29 L1534.4,873.17 L1536.1,874.25 L1537.8,874.49 L1539.4,873.81 L1541.1,873.09 L1542.7,873.20 L1544.4,874.00 L1546.1,874.45 L1547.7,874.21 L1549.4,873.91 L1551.0,873.69 L1552.7,873.94 L1554.4,874.33 L1556.0,874.78 L1557.7,875.23 L1559.3,875.07 L1561.0,874.37 L1562.7,873.38 L1564.3,872.60 L1566.0,872.30 L1567.6,872.34 L1569.3,872.22 L1571.0,871.78 L1572.6,870.53 L1574.3,868.12 L1575.9,864.69 L1577.6,860.88 L1579.3,857.12 L1580.9,853.42 L1582.6,850.62 L1584.2,849.57 L1584.4,849.81 L1585.9,850.26 L1587.6,851.50 L1589.2,854.00 L1590.9,857.47 L1592.5,860.77 L1594.2,863.39 L1595.9,864.80 L1597.5,866.06 L1598.0,866.98 L1599.2,867.55 L1600.8,868.30 L1602.5,869.02 L1604.2,869.50 L1605.8,870.30 L1607.5,871.36 L1609.1,872.30 L1610.8,873.07 L1612.5,873.05 L1614.1,872.47 L1615.8,872.05 L1617.4,871.89 L1619.1,872.05 L1620.8,872.72 L1622.4,873.55 L1624.1,874.08 L1625.7,874.08 L1627.4,873.64 L1629.1,873.33 L1630.7,873.66 L1632.4,874.19 L1634.0,874.28 L1635.7,873.85 L1637.4,873.44 L1639.0,873.64 L1640.7,874.28 L1642.3,874.62 L1644.0,874.24 L1645.7,873.60 L1647.3,873.37 L1649.0,873.62 L1650.6,874.20 L1652.3,874.83 L1654.0,875.10 L1655.6,875.16 L1657.3,874.82 L1658.9,874.46 L1660.6,874.41 L1662.3,874.34 L1663.9,874.48 L1665.6,874.69 L1667.2,874.71 L1668.9,874.95 L1670.6,875.27 L1672.2,874.98 L1673.9,874.68 L1675.5,874.49 L1677.2,874.24 L1678.9,874.22 L1680.5,874.09 L1682.2,874.25 L1683.8,874.62 L1685.5,874.65 L1687.2,874.18 L1688.8,873.85 L1690.5,874.05 L1692.1,874.01 L1693.8,873.84 L1695.5,873.96 L1697.1,874.50 L1698.8,875.24 L1700.4,875.45 L1702.1,875.07 L1703.8,874.76 L1705.4,874.64 L1707.1,874.64 L1708.7,874.59 L1710.4,874.37 L1712.1,874.38 L1713.7,874.63 L1715.4,874.95 L1717.0,874.78 L1718.7,874.17 L1720.4,873.70 L1722.0,873.55 L1723.7,873.89 L1725.3,874.24 L1727.0,874.59 L1728.7,875.17 L1730.3,875.52 L1732.0,875.50 L1733.6,874.74 L1735.3,873.74 L1737.0,873.42 L1738.6,873.79 L1740.3,875.08 L1741.9,876.02 L1743.6,875.91 L1745.3,875.14 L1746.9,873.93 L1748.6,873.62 L1750.2,874.07 L1751.9,874.36 L1753.6,874.50 L1755.2,874.52 L1756.9,874.82 L1758.5,874.92 L1760.2,874.47 L1761.9,873.88 L1763.5,873.60 L1765.2,873.94 L1766.8,874.12 L1768.5,873.72 L1770.2,873.02 L1771.8,871.85 L1773.5,870.22 L1775.1,868.16 L1776.8,865.31 L1778.5,862.41 L1780.1,859.39 L1781.8,856.29 L1783.4,854.01 L1785.1,852.80 L1785.3,853.16 L1786.8,855.17 L1788.4,858.38 L1790.1,861.84 L1791.7,864.57 L1793.4,866.26 L1795.1,867.77 L1796.7,868.68 L1798.4,869.39 L1800.0,870.29 L1801.7,871.44 L1803.4,873.34 L1805.0,874.91 L1806.7,875.71 L1808.3,875.80 L1810.0,875.22 L1811.7,875.00 L1813.3,874.75 L1815.0,874.72 L1816.6,875.15 L1818.3,874.88 L1820.0,874.45 L1821.6,873.89 L1823.3,873.38 L1824.9,873.49 L1826.6,873.50 L1828.3,873.41 L1829.9,873.46 L1831.6,873.51 L1833.2,873.21 L1834.9,872.95 L1836.6,873.25 L1838.2,873.76 L1839.9,874.11 L1841.5,873.77 L1843.2,873.35 L1844.9,873.54 L1846.5,874.17 L1848.2,874.98 L1849.8,875.33 L1851.5,875.26 L1853.2,874.78 L1854.8,873.79 L1856.5,873.06 L1858.1,872.85 L1859.8,873.03 L1861.5,873.56 L1863.1,873.67 L1864.8,873.76 L1866.4,874.21 L1868.1,874.53 L1869.8,874.64 L1871.4,874.19 L1873.1,873.81 L1874.7,873.74 L1876.4,873.85 L1878.1,874.10 L1879.7,874.56 L1881.4,874.94 L1883.0,874.85 L1884.7,875.08 L1886.4,875.80 L1888.0,876.65 L1889.7,876.58 L1891.3,875.47 L1893.0,874.61 L1894.7,874.27 L1896.3,874.68 L1898.0,875.34 L1899.6,875.64 L1901.3,875.96 L1903.0,875.66 L1904.6,874.91 L1906.3,874.45 L1907.9,874.27 L1909.6,874.68 L1911.3,874.93 L1912.9,874.56 L1914.6,874.19 L1916.2,873.82 L1917.9,873.68 L1919.6,873.77 L1921.2,873.96 L1922.9,874.25 L1924.5,874.03 L1926.2,873.53 L1927.9,873.34 L1929.5,873.60 L1931.2,874.26 L1932.8,875.09 L1934.5,876.26 L1936.2,877.01 L1937.8,876.51 L1939.5,875.29 L1941.1,874.47 L1942.8,874.36 L1944.5,874.02 L1946.1,873.26 L1947.8,872.65 L1949.4,872.72 L1951.1,873.38 L1952.8,874.05 L1954.4,874.71 L1956.1,875.17 L1957.7,874.81 L1959.4,873.95 L1961.1,873.46 L1962.7,873.83 L1964.4,874.84 L1966.0,875.37 L1967.7,874.94 L1969.4,874.12 L1971.0,873.67 L1972.7,873.66 L1974.3,874.08 L1976.0,874.34 L1977.7,873.68 L1979.3,872.39 L1981.0,871.00 L1982.6,869.90 L1984.3,869.08 L1986.0,867.74 L1987.6,865.46 L1989.3,863.64 L1990.9,861.99 L1992.6,859.93 L1994.3,858.25 L1995.0,857.41 L1995.9,857.66 L1997.6,858.99 L1999.2,860.51 L2000.9,862.44 L2002.6,864.96 L2004.2,867.52 L2005.9,869.27 L2007.5,870.70 L2009.2,871.78 L2010.9,872.20 L2012.5,872.07 L2014.2,871.21 L2015.8,870.40 L2017.5,870.32 L2019.0,870.77 L2019.2,871.13 L2020.8,871.40 L2022.5,872.04 L2024.1,873.25 L2025.8,874.53 L2027.5,875.40 L2029.1,875.52 L2030.8,875.43 L2032.4,875.65 L2034.1,875.92 L2035.8,876.04 L2037.4,876.07 L2039.1,876.01 L2040.7,875.83 L2042.4,875.75 L2044.1,875.79 L2045.7,875.74 L2047.4,875.76 L2049.0,875.91 L2050.7,875.97 L2052.4,875.99 L2054.0,875.91 L2055.7,875.74 L2057.3,875.87 L2059.0,875.62 L2060.7,874.86 L2062.3,874.26 L2064.0,873.71 L2065.6,873.89 L2067.3,875.05 L2069.0,876.15 L2070.6,876.61 L2072.3,876.49 L2073.9,875.69 L2075.6,875.21 L2077.3,875.47 L2078.9,875.32 L2080.6,875.29 L2082.2,875.66 L2083.9,875.92 L2085.6,876.68 L2087.2,877.14 L2088.9,876.81 L2090.5,876.61 L2092.2,876.48 L2093.9,876.61 L2095.5,876.72 L2097.2,876.32 L2098.8,875.68 L2100.5,875.24 L2102.2,875.52 L2103.8,876.56 L2105.5,877.86 L2107.1,878.27 L2108.8,877.62 L2110.5,877.09 L2112.1,876.77 L2113.8,876.87 L2115.4,876.80 L2117.1,876.14 L2118.8,876.10 L2120.4,876.63 L2122.1,877.26 L2123.7,877.46 L2125.4,876.70 L2127.1,875.41 L2128.7,874.79 L2130.4,875.23 L2132.0,876.06 L2133.7,876.79 L2135.4,877.06 L2137.0,877.53 L2138.7,878.18 L2140.3,878.37 L2142.0,878.19 L2143.7,877.63 L2145.3,877.00 L2147.0,876.47 L2148.6,875.99 L2150.3,875.53 L2152.0,875.56 L2153.6,875.78 L2155.3,875.66 L2156.9,875.43 L2158.6,875.02 L2160.3,874.87 L2161.9,875.32 L2163.6,876.02 L2165.2,876.64 L2166.9,877.21 L2168.6,877.47" stroke="#ff0000" fill="none" stroke-width="9.5" stroke-linejoin="round" stroke-linecap="butt"/>
<path d="M150.0,594.50 L151.7,592.46 L153.3,590.46 L155.0,589.73 L156.6,589.91 L158.3,590.55 L160.0,590.99 L161.6,590.70 L163.3,590.01 L164.9,589.06 L166.6,588.46 L168.3,588.74 L169.9,588.92 L171.6,588.17 L173.2,587.22 L174.9,587.11 L176.6,587.79 L178.2,588.10 L179.9,587.76 L181.5,587.17 L183.2,586.96 L184.9,587.54 L186.5,588.01 L188.2,588.08 L189.8,587.87 L191.5,587.09 L193.2,586.26 L194.8,585.96 L196.5,586.17 L198.1,586.86 L199.8,587.78 L201.5,588.70 L203.1,589.22 L204.8,588.78 L206.4,587.76 L208.1,586.92 L209.8,585.81 L211.4,584.88 L213.1,584.80 L214.7,584.52 L216.4,584.41 L218.1,584.48 L219.7,585.01 L221.4,586.09 L223.0,586.81 L224.7,587.32 L226.4,587.38 L228.0,587.29 L229.7,587.53 L231.3,588.15 L233.0,589.50 L234.7,590.88 L236.3,591.36 L238.0,591.18 L239.6,591.04 L241.3,590.90 L243.0,590.54 L244.6,590.31 L246.3,589.82 L247.9,589.75 L249.6,590.39 L251.3,591.33 L252.9,593.41 L254.6,595.07 L256.2,595.35 L257.9,595.51 L259.6,595.25 L261.2,594.95 L262.9,595.11 L264.5,595.17 L266.2,595.68 L267.9,596.45 L269.5,596.92 L271.2,597.41 L272.8,597.79 L274.5,597.65 L276.2,596.81 L277.8,595.50 L279.5,594.71 L281.1,594.61 L282.8,595.02 L284.5,596.50 L286.1,597.75 L287.8,598.25 L289.4,597.98 L291.1,597.07 L292.8,596.55 L294.4,596.18 L296.1,595.78 L297.7,595.90 L299.4,597.33 L301.1,599.09 L302.7,599.84 L304.4,599.63 L306.0,599.00 L307.7,598.69 L309.4,599.02 L311.0,599.79 L312.7,600.75 L314.3,601.88 L316.0,602.07 L317.7,601.10 L319.3,600.24 L321.0,599.91 L322.6,599.86 L324.3,599.54 L326.0,598.45 L327.6,595.62 L329.3,589.98 L330.9,579.96 L332.6,565.48 L334.3,550.81 L335.9,540.09 L337.5,537.27 L337.6,539.13 L339.2,544.42 L340.9,555.52 L342.6,569.12 L344.2,581.14 L345.9,590.25 L347.5,596.48 L349.2,600.78 L350.9,603.67 L352.5,604.91 L354.2,605.14 L355.8,605.02 L357.5,605.68 L359.2,606.92 L360.8,607.62 L362.5,607.88 L364.1,607.87 L365.8,607.87 L367.5,607.98 L369.1,608.42 L370.8,609.19 L372.4,610.06 L374.1,610.42 L375.8,609.99 L377.4,609.28 L379.1,609.13 L380.7,609.72 L382.4,610.46 L384.1,610.91 L385.7,610.63 L387.4,610.33 L389.0,610.71 L390.7,611.39 L392.4,612.00 L394.0,612.47 L395.7,612.74 L397.3,612.77 L399.0,612.43 L400.7,611.80 L402.3,611.79 L404.0,612.56 L405.6,613.49 L407.3,614.02 L409.0,613.65 L410.6,613.09 L412.3,613.00 L413.9,613.45 L415.6,614.02 L417.3,614.40 L418.9,615.16 L420.6,616.31 L422.2,617.51 L423.9,618.08 L425.6,617.84 L427.2,617.28 L428.9,616.80 L430.5,616.60 L432.2,616.30 L433.9,615.90 L435.5,615.70 L437.2,615.91 L438.8,616.40 L440.5,616.52 L442.2,616.19 L443.8,615.67 L445.5,615.61 L447.1,616.17 L448.8,616.66 L450.5,616.96 L452.1,616.57 L453.8,615.66 L455.4,615.15 L457.1,615.48 L458.8,616.31 L460.4,616.74 L462.1,616.63 L463.7,616.05 L465.4,615.49 L467.1,615.32 L468.7,615.46 L470.4,616.09 L472.0,617.20 L473.7,618.10 L475.4,618.51 L477.0,618.98 L478.7,619.54 L480.3,619.72 L482.0,619.28 L483.7,618.71 L485.3,618.25 L487.0,618.09 L488.6,617.89 L490.3,617.21 L492.0,616.89 L493.6,617.23 L495.3,618.17 L496.9,619.63 L498.6,620.81 L500.3,620.76 L501.9,619.83 L503.6,619.06 L505.2,619.03 L506.9,619.67 L508.6,619.76 L510.2,619.42 L511.9,618.99 L513.5,618.49 L515.2,618.65 L516.9,619.14 L518.5,620.10 L520.2,620.66 L521.8,620.25 L523.5,619.97 L525.2,619.87 L526.8,620.29 L528.5,620.51 L530.1,620.18 L531.8,620.27 L533.5,620.30 L535.1,620.10 L536.8,619.78 L538.4,619.39 L540.1,619.62 L541.8,620.25 L543.4,620.86 L545.1,621.56 L546.7,621.84 L548.4,621.58 L550.1,620.89 L551.7,619.92 L553.4,619.27 L555.0,619.17 L556.7,619.40 L558.4,619.66 L560.0,619.96 L561.7,620.06 L563.3,620.08 L565.0,620.36 L566.7,621.00 L568.3,621.53 L570.0,621.44 L571.6,620.76 L573.3,619.97 L575.0,620.08 L576.6,620.81 L578.3,621.51 L579.9,622.23 L581.6,622.32 L583.3,621.75 L584.9,621.05 L586.6,620.57 L588.2,620.65 L589.9,620.96 L591.6,621.26 L593.2,621.56 L594.9,621.85 L596.5,621.69 L598.2,620.75 L599.9,619.94 L601.5,619.96 L603.2,620.31 L604.8,620.50 L606.5,620.17 L608.2,619.50 L609.8,619.31 L611.5,619.46 L613.1,619.61 L614.8,620.13 L616.5,620.61 L618.1,620.97 L619.8,621.37 L621.4,621.43 L623.1,621.36 L624.8,621.57 L626.4,621.86 L628.1,622.21 L629.7,622.32 L631.4,621.89 L633.1,621.64 L634.7,621.33 L636.4,620.60 L638.0,620.10 L639.7,619.99 L641.4,620.06 L643.0,620.40 L644.7,620.50 L646.3,620.68 L648.0,621.16 L649.7,620.97 L651.3,620.64 L653.0,620.50 L654.6,620.52 L656.3,620.96 L658.0,621.45 L659.6,621.84 L661.3,621.87 L662.9,621.42 L664.6,620.60 L666.3,619.83 L667.9,619.42 L669.6,619.15 L671.2,619.37 L672.9,619.87 L674.6,620.57 L676.2,621.69 L677.9,622.07 L679.5,621.62 L681.2,620.80 L682.9,620.12 L684.5,620.41 L686.2,621.04 L687.8,621.54 L689.5,621.84 L691.2,621.77 L692.8,620.99 L694.5,619.75 L696.1,618.80 L697.8,618.52 L699.5,618.94 L701.1,619.75 L702.8,620.55 L704.4,621.24 L706.1,621.67 L707.8,621.62 L709.4,621.17 L711.1,620.23 L712.7,618.69 L714.4,616.40 L716.1,613.93 L717.7,610.52 L719.4,605.50 L721.0,599.78 L722.7,594.15 L724.4,590.08 L726.0,588.49 L726.5,588.78 L727.7,590.04 L729.3,593.80 L731.0,598.06 L732.7,601.93 L734.3,605.26 L736.0,606.54 L737.6,604.06 L739.3,596.06 L741.0,580.51 L742.6,556.21 L744.3,520.93 L745.9,473.69 L747.6,414.24 L749.3,338.62 L750.9,248.85 L752.6,168.02 L754.0,139.26 L754.2,139.28 L755.9,184.15 L757.6,270.31 L759.2,354.80 L760.9,422.40 L762.5,476.45 L764.2,520.33 L765.9,554.32 L767.5,576.94 L769.2,590.21 L770.8,597.76 L772.5,602.05 L772.8,603.15 L774.2,605.55 L775.8,606.72 L777.5,607.33 L779.1,608.10 L780.8,609.83 L782.5,612.34 L784.1,614.51 L785.8,616.24 L787.4,617.73 L789.1,619.32 L790.8,620.77 L792.4,621.83 L794.1,622.37 L795.7,622.76 L797.4,623.57 L799.1,624.18 L800.7,624.44 L802.4,624.59 L804.0,624.71 L805.7,625.09 L807.4,625.35 L809.0,625.11 L810.7,624.69 L812.3,624.30 L814.0,624.21 L815.7,624.54 L817.3,624.92 L819.0,625.23 L820.6,625.10 L822.3,624.62 L824.0,624.49 L825.6,624.85 L827.3,625.30 L828.9,625.28 L830.6,624.77 L832.3,624.00 L833.9,623.68 L835.6,624.26 L837.2,625.01 L838.9,625.59 L840.6,625.36 L842.2,624.92 L843.9,625.10 L845.5,625.63 L847.2,626.40 L848.9,626.92 L850.5,626.80 L852.2,626.04 L853.8,625.00 L855.5,624.27 L857.2,624.05 L858.8,623.77 L860.5,623.49 L862.1,623.63 L863.8,624.36 L865.5,625.31 L867.1,626.09 L868.8,626.35 L870.4,625.78 L872.1,625.20 L873.8,624.96 L875.4,625.08 L877.1,625.58 L878.7,626.07 L880.4,626.74 L882.1,627.32 L883.7,627.21 L885.4,626.71 L887.0,626.30 L888.7,626.39 L890.4,626.62 L892.0,626.58 L893.7,626.13 L895.3,625.51 L897.0,625.71 L898.7,626.36 L900.3,627.10 L902.0,627.12 L903.6,626.20 L905.3,625.37 L907.0,624.89 L908.6,625.21 L910.3,625.63 L911.9,625.60 L913.6,625.32 L915.3,625.44 L916.9,626.31 L918.6,627.01 L920.2,627.18 L921.9,626.83 L923.6,626.50 L925.2,626.20 L926.9,625.59 L928.5,625.47 L930.2,625.99 L931.9,626.56 L933.5,626.52 L935.2,625.83 L936.8,625.40 L938.5,625.46 L940.2,625.86 L941.8,626.17 L943.5,626.12 L945.1,626.26 L946.8,626.43 L948.5,626.76 L950.1,627.09 L951.8,626.85 L953.4,626.52 L955.1,626.33 L956.8,626.53 L958.4,627.03 L960.1,627.16 L961.7,627.03 L963.4,626.89 L965.1,626.61 L966.7,626.26 L968.4,625.91 L970.0,625.87 L971.7,626.25 L973.4,626.66 L975.0,626.68 L976.7,626.24 L978.3,626.13 L980.0,626.27 L981.7,626.64 L983.3,626.70 L985.0,626.06 L986.6,625.71 L988.3,625.66 L990.0,625.71 L991.6,625.75 L993.3,625.37 L994.9,625.13 L996.6,625.56 L998.3,626.16 L999.9,626.79 L1001.6,626.75 L1003.2,626.05 L1004.9,625.48 L1006.6,625.41 L1008.2,625.83 L1009.9,626.23 L1011.5,626.54 L1013.2,626.89 L1014.9,626.90 L1016.5,626.36 L1018.2,625.90 L1019.8,625.89 L1021.5,626.32 L1023.2,626.57 L1024.8,626.28 L1026.5,626.02 L1028.1,626.00 L1029.8,625.94 L1031.5,625.60 L1033.1,625.23 L1034.8,625.45 L1036.4,625.96 L1038.1,626.42 L1039.8,627.07 L1041.4,627.47 L1043.1,628.00 L1044.7,628.35 L1046.4,628.13 L1048.1,627.95 L1049.7,627.27 L1051.4,626.52 L1053.0,626.43 L1054.7,626.67 L1056.4,627.05 L1058.0,626.91 L1059.7,626.07 L1061.3,625.63 L1063.0,625.68 L1064.7,625.98 L1066.3,626.64 L1068.0,626.83 L1069.6,626.41 L1071.3,625.89 L1073.0,625.87 L1074.6,626.49 L1076.3,626.80 L1077.9,626.48 L1079.6,626.09 L1081.3,625.87 L1082.9,625.32 L1084.6,624.00 L1086.2,622.18 L1087.9,620.91 L1089.6,619.71 L1091.2,617.52 L1092.9,615.25 L1094.5,614.01 L1094.8,613.83 L1096.2,614.12 L1097.9,615.22 L1099.5,616.96 L1101.2,619.35 L1102.8,621.64 L1104.5,623.16 L1106.2,624.41 L1107.8,625.29 L1109.5,625.87 L1111.1,626.13 L1112.8,625.99 L1114.5,625.98 L1116.1,625.89 L1117.8,625.73 L1119.4,625.51 L1121.1,624.99 L1122.8,625.14 L1124.4,626.02 L1126.1,627.07 L1127.7,628.01 L1129.4,628.09 L1131.1,627.63 L1132.7,627.11 L1134.4,626.76 L1136.0,626.92 L1137.7,627.14 L1139.4,627.11 L1141.0,627.10 L1142.7,627.05 L1144.3,627.04 L1146.0,627.12 L1147.7,627.21 L1149.3,627.37 L1151.0,627.44 L1152.6,627.19 L1154.3,626.92 L1156.0,626.92 L1157.6,626.74 L1159.3,626.38 L1160.9,626.23 L1162.6,626.47 L1164.3,626.87 L1165.9,627.08 L1167.6,627.15 L1169.2,627.36 L1170.9,627.92 L1172.6,628.20 L1174.2,628.02 L1175.9,627.71 L1177.5,627.40 L1179.2,627.59 L1180.9,627.96 L1182.5,628.17 L1184.2,627.95 L1185.8,627.41 L1187.5,626.92 L1189.2,626.82 L1190.8,627.47 L1192.5,627.75 L1194.1,627.02 L1195.8,626.00 L1197.5,625.43 L1199.1,625.81 L1200.8,626.45 L1202.4,626.36 L1204.1,626.10 L1205.8,626.14 L1207.4,626.39 L1209.1,626.84 L1210.7,627.14 L1212.4,627.26 L1214.1,627.35 L1215.7,627.27 L1217.4,626.95 L1219.0,626.09 L1220.7,625.42 L1222.4,625.32 L1224.0,625.47 L1225.7,625.82 L1227.3,625.67 L1229.0,625.58 L1230.7,625.60 L1232.3,625.25 L1234.0,625.21 L1235.6,625.38 L1237.3,625.76 L1239.0,626.39 L1240.6,626.86 L1242.3,627.30 L1243.9,627.06 L1245.6,626.04 L1247.3,625.04 L1248.9,624.78 L1250.6,625.45 L1252.2,625.94 L1253.9,625.89 L1255.6,625.46 L1257.2,625.07 L1258.9,625.02 L1260.5,625.06 L1262.2,625.10 L1263.9,625.00 L1265.5,624.59 L1267.2,623.79 L1268.8,622.56 L1270.5,620.74 L1272.2,618.03 L1273.8,613.65 L1275.5,606.72 L1277.1,596.42 L1278.8,582.34 L1280.5,563.92 L1282.1,541.80 L1283.8,517.27 L1285.4,492.30 L1287.1,471.67 L1288.8,458.65 L1290.1,456.30 L1290.4,457.79 L1292.1,465.46 L1293.7,482.12 L1295.4,505.25 L1297.1,530.62 L1298.7,553.34 L1300.4,571.75 L1302.0,586.39 L1303.7,598.67 L1305.4,608.23 L1307.0,613.76 L1308.7,616.20 L1310.3,616.87 L1312.0,616.91 L1313.7,616.90 L1315.3,616.36 L1317.0,615.51 L1318.6,615.31 L1320.3,615.11 L1322.0,614.73 L1323.6,614.90 L1325.0,615.14 L1325.3,615.20 L1326.9,615.23 L1328.6,615.21 L1330.3,615.58 L1331.9,616.27 L1333.6,616.84 L1335.2,617.13 L1336.9,618.19 L1338.6,619.92 L1340.2,621.39 L1341.9,622.55 L1343.5,623.05 L1345.2,623.11 L1346.9,623.50 L1348.5,624.26 L1350.2,624.96 L1351.8,625.51 L1353.5,625.89 L1355.2,626.19 L1356.8,626.63 L1358.5,626.50 L1360.1,625.73 L1361.8,624.90 L1363.5,624.53 L1365.1,624.88 L1366.8,625.58 L1368.4,626.18 L1370.1,626.30 L1371.8,625.95 L1373.4,625.32 L1375.1,625.08 L1376.7,625.30 L1378.4,625.72 L1380.1,625.78 L1381.7,625.49 L1383.4,625.63 L1385.0,626.20 L1386.7,627.05 L1388.4,627.26 L1390.0,626.84 L1391.7,626.86 L1393.3,626.98 L1395.0,626.94 L1396.7,626.62 L1398.3,626.14 L1400.0,626.30 L1401.6,626.40 L1403.3,625.98 L1405.0,625.13 L1406.6,624.08 L1408.3,623.21 L1409.9,622.65 L1411.6,622.70 L1413.3,623.42 L1414.9,624.36 L1416.6,624.94 L1418.2,625.63 L1419.9,626.12 L1421.6,625.93 L1423.2,625.62 L1424.9,625.78 L1426.5,626.41 L1428.2,626.52 L1429.9,625.72 L1431.5,624.74 L1433.2,624.70 L1434.8,625.27 L1436.5,625.41 L1438.2,625.29 L1439.8,624.90 L1441.5,624.37 L1443.1,624.18 L1444.8,624.51 L1446.5,625.14 L1448.1,625.88 L1449.8,626.47 L1451.4,626.77 L1453.1,627.05 L1454.8,626.96 L1456.4,626.68 L1458.1,626.71 L1459.7,626.73 L1461.4,626.22 L1463.1,625.35 L1464.7,624.63 L1466.4,624.21 L1468.0,624.46 L1469.7,624.67 L1471.4,624.74 L1473.0,625.08 L1474.7,624.98 L1476.3,624.74 L1478.0,624.95 L1479.7,625.85 L1481.3,626.88 L1483.0,627.34 L1484.6,627.32 L1486.3,626.96 L1488.0,626.56 L1489.6,626.19 L1491.3,625.90 L1492.9,625.96 L1494.6,626.31 L1496.3,626.56 L1497.9,626.73 L1499.6,627.27 L1501.2,627.64 L1502.9,627.94 L1504.6,628.22 L1506.2,627.70 L1507.9,626.93 L1509.5,626.31 L1511.2,626.13 L1512.9,626.41 L1514.5,626.22 L1516.2,625.37 L1517.8,624.56 L1519.5,624.43 L1521.2,625.25 L1522.8,625.82 L1524.5,625.48 L1526.1,624.88 L1527.8,624.43 L1529.5,624.77 L1531.1,625.14 L1532.8,624.85 L1534.4,624.69 L1536.1,624.99 L1537.8,625.48 L1539.4,625.80 L1541.1,625.48 L1542.7,624.68 L1544.4,624.30 L1546.1,624.31 L1547.7,624.20 L1549.4,623.97 L1551.0,623.81 L1552.7,623.92 L1554.4,623.99 L1556.0,623.41 L1557.7,622.17 L1559.3,620.99 L1561.0,619.88 L1562.7,618.65 L1564.0,617.67 L1564.3,617.20 L1566.0,617.35 L1567.6,617.36 L1569.3,616.98 L1571.0,616.34 L1572.6,614.40 L1574.3,611.34 L1575.9,606.98 L1577.6,601.59 L1579.3,596.46 L1580.9,591.78 L1582.6,588.66 L1583.3,587.62 L1584.2,587.19 L1585.9,589.93 L1587.6,595.38 L1589.2,602.22 L1590.9,608.70 L1592.5,613.31 L1594.2,616.55 L1595.9,618.95 L1597.5,620.45 L1599.2,621.60 L1600.8,622.05 L1602.5,622.28 L1604.2,622.81 L1605.8,623.49 L1607.5,624.32 L1609.1,624.62 L1610.8,624.43 L1612.5,623.63 L1614.1,622.77 L1615.8,622.59 L1617.4,622.83 L1619.1,623.16 L1620.8,623.34 L1622.4,623.86 L1624.1,624.64 L1625.7,625.36 L1627.4,625.75 L1629.1,625.52 L1630.7,625.27 L1632.4,625.40 L1634.0,625.71 L1635.7,625.90 L1637.4,625.56 L1639.0,625.30 L1640.7,625.76 L1642.3,626.25 L1644.0,626.39 L1645.7,626.10 L1647.3,625.95 L1649.0,626.04 L1650.6,626.06 L1652.3,626.26 L1654.0,626.56 L1655.6,626.99 L1657.3,626.92 L1658.9,626.43 L1660.6,626.37 L1662.3,626.11 L1663.9,625.83 L1665.6,626.04 L1667.2,626.35 L1668.9,627.01 L1670.6,627.63 L1672.2,628.01 L1673.9,628.33 L1675.5,628.12 L1677.2,627.55 L1678.9,626.91 L1680.5,626.25 L1682.2,625.93 L1683.8,625.96 L1685.5,626.39 L1687.2,626.65 L1688.8,626.32 L1690.5,626.14 L1692.1,626.20 L1693.8,626.84 L1695.5,627.23 L1697.1,626.91 L1698.8,626.59 L1700.4,626.20 L1702.1,625.94 L1703.8,625.77 L1705.4,625.80 L1707.1,626.13 L1708.7,626.54 L1710.4,626.65 L1712.1,626.59 L1713.7,626.64 L1715.4,626.55 L1717.0,626.60 L1718.7,626.50 L1720.4,626.53 L1722.0,626.80 L1723.7,627.06 L1725.3,627.48 L1727.0,627.65 L1728.7,627.33 L1730.3,626.72 L1732.0,626.47 L1733.6,626.70 L1735.3,626.82 L1737.0,626.45 L1738.6,625.81 L1740.3,625.49 L1741.9,625.44 L1743.6,625.70 L1745.3,626.17 L1746.9,626.45 L1748.6,626.56 L1750.2,626.18 L1751.9,626.11 L1753.6,626.41 L1755.2,626.28 L1756.9,625.74 L1758.5,624.86 L1760.2,624.76 L1761.9,625.25 L1763.5,625.37 L1765.2,624.82 L1766.8,623.58 L1768.5,622.60 L1770.2,621.79 L1771.8,620.40 L1773.5,618.15 L1775.1,614.82 L1776.8,610.48 L1778.5,604.97 L1780.1,598.30 L1781.8,592.28 L1783.4,588.26 L1785.1,586.80 L1785.3,587.29 L1786.8,588.14 L1788.4,591.69 L1790.1,597.07 L1791.7,603.02 L1793.4,608.92 L1795.1,613.69 L1796.7,617.78 L1798.4,620.71 L1800.0,622.88 L1801.7,624.66 L1803.4,625.09 L1805.0,625.13 L1806.7,625.43 L1808.3,625.77 L1810.0,626.23 L1811.7,626.15 L1813.3,625.25 L1815.0,624.63 L1816.6,624.76 L1818.3,625.04 L1820.0,625.59 L1821.6,626.42 L1823.3,626.54 L1824.9,625.82 L1826.6,624.70 L1828.3,623.89 L1829.9,624.35 L1831.6,625.22 L1833.2,625.30 L1834.9,624.78 L1836.6,624.69 L1838.2,625.20 L1839.9,625.55 L1841.5,625.75 L1843.2,625.71 L1844.9,625.59 L1846.5,625.82 L1848.2,626.07 L1849.8,626.18 L1851.5,626.18 L1853.2,625.99 L1854.8,625.90 L1856.5,626.11 L1858.1,626.47 L1859.8,626.77 L1861.5,626.74 L1863.1,626.23 L1864.8,625.58 L1866.4,625.25 L1868.1,625.75 L1869.8,626.64 L1871.4,627.12 L1873.1,626.91 L1874.7,626.35 L1876.4,625.85 L1878.1,626.05 L1879.7,626.87 L1881.4,627.33 L1883.0,627.54 L1884.7,627.35 L1886.4,626.86 L1888.0,626.56 L1889.7,626.42 L1891.3,626.85 L1893.0,627.60 L1894.7,628.11 L1896.3,628.11 L1898.0,627.71 L1899.6,627.29 L1901.3,627.18 L1903.0,627.27 L1904.6,627.19 L1906.3,627.09 L1907.9,627.10 L1909.6,627.19 L1911.3,627.16 L1912.9,626.81 L1914.6,626.21 L1916.2,626.07 L1917.9,626.57 L1919.6,626.89 L1921.2,626.78 L1922.9,626.41 L1924.5,626.19 L1926.2,626.27 L1927.9,626.58 L1929.5,626.76 L1931.2,626.77 L1932.8,626.92 L1934.5,626.73 L1936.2,626.41 L1937.8,626.33 L1939.5,626.25 L1941.1,626.16 L1942.8,626.05 L1944.5,625.92 L1946.1,625.94 L1947.8,626.11 L1949.4,625.70 L1951.1,624.71 L1952.8,623.42 L1954.4,622.39 L1956.1,622.05 L1957.7,622.16 L1959.4,622.46 L1961.1,622.30 L1962.7,621.92 L1964.4,621.55 L1966.0,621.24 L1967.7,621.46 L1969.4,621.85 L1970.0,622.02 L1971.0,621.68 L1972.7,621.05 L1974.3,620.71 L1976.0,620.65 L1977.7,620.25 L1979.3,618.43 L1981.0,615.43 L1982.6,611.94 L1984.3,608.05 L1986.0,604.48 L1987.6,601.22 L1989.3,598.53 L1990.9,596.78 L1992.6,595.71 L1993.9,595.28 L1994.3,594.96 L1995.9,596.21 L1997.6,598.55 L1999.2,601.61 L2000.9,605.32 L2002.6,609.28 L2004.2,613.35 L2005.9,617.09 L2007.5,619.93 L2009.2,621.97 L2010.9,623.17 L2012.5,623.40 L2014.2,623.39 L2015.8,623.37 L2017.5,623.29 L2019.2,623.38 L2020.8,623.72 L2022.5,624.25 L2024.1,624.76 L2025.8,624.91 L2027.5,624.53 L2029.1,624.29 L2030.8,624.49 L2032.4,624.87 L2034.1,625.01 L2035.8,624.82 L2037.4,624.64 L2039.1,624.62 L2040.7,624.78 L2042.4,624.77 L2044.1,624.39 L2045.7,623.94 L2047.4,623.83 L2049.0,623.92 L2050.7,624.38 L2052.4,625.03 L2054.0,625.55 L2055.7,626.06 L2057.3,626.00 L2059.0,626.00 L2060.7,626.76 L2062.3,627.69 L2064.0,628.03 L2065.6,627.46 L2067.3,626.88 L2069.0,626.71 L2070.6,626.53 L2072.3,626.25 L2073.9,626.11 L2075.6,626.26 L2077.3,626.56 L2078.9,626.80 L2080.6,626.89 L2082.2,627.04 L2083.9,627.26 L2085.6,627.44 L2087.2,627.36 L2088.9,627.27 L2090.5,627.40 L2092.2,627.55 L2093.9,627.77 L2095.5,627.48 L2097.2,626.57 L2098.8,625.77 L2100.5,625.69 L2102.2,626.29 L2103.8,627.10 L2105.5,627.04 L2107.1,626.07 L2108.8,625.37 L2110.5,625.70 L2112.1,626.55 L2113.8,626.98 L2115.4,627.14 L2117.1,627.29 L2118.8,627.69 L2120.4,627.50 L2122.1,626.73 L2123.7,626.46 L2125.4,626.81 L2127.1,627.48 L2128.7,627.54 L2130.4,627.45 L2132.0,627.72 L2133.7,628.04 L2135.4,628.10 L2137.0,627.88 L2138.7,627.66 L2140.3,627.38 L2142.0,627.29 L2143.7,627.33 L2145.3,627.77 L2147.0,628.46 L2148.6,628.89 L2150.3,629.14 L2152.0,628.97 L2153.6,628.63 L2155.3,628.02 L2156.9,627.70 L2158.6,627.83 L2160.3,628.04 L2161.9,628.79 L2163.6,629.46 L2165.2,629.79 L2166.9,629.74 L2168.6,629.23" stroke="#00ff00" fill="none" stroke-width="9.5" stroke-linejoin="round" stroke-linecap="butt"/>
</g></g>
<text x="159.50" y="1438.6" font-size="90.5" text-anchor="middle" class="a">20</text>
<text x="492.27" y="1438.6" font-size="90.5" text-anchor="middle" class="a">30</text>
<text x="825.03" y="1438.6" font-size="90.5" text-anchor="middle" class="a">40</text>
<text x="1157.80" y="1438.6" font-size="90.5" text-anchor="middle" class="a">50</text>
<text x="1490.57" y="1438.6" font-size="90.5" text-anchor="middle" class="a">60</text>
<text x="1823.33" y="1438.6" font-size="90.5" text-anchor="middle" class="a">70</text>
<text x="2156.10" y="1438.6" font-size="90.5" text-anchor="middle" class="a">80</text>
<text x="1163.2" y="1566.2" font-size="90" text-anchor="middle" class="a">2θ (degrees)</text>
<text transform="translate(105,1107.3) rotate(-90)" font-size="89.8" class="a">Intensity (arb. units)</text>
<text x="1819.5" y="308.7" font-size="79.6" class="b">1000 nm</text>
<text x="1869.5" y="903.7" font-size="79.6" class="b">500 nm</text>
<text x="1869.5" y="1183.7" font-size="79.6" class="b">80 nm</text>
<text transform="translate(359.0,576.5) rotate(-90)" font-size="63" class="p"><tspan font-size="67" dy="3.4">(</tspan><tspan dy="-3.4" dx="-0.9">101</tspan><tspan font-size="67" dy="3.4" dx="-0.9">)</tspan></text>
<text transform="translate(698.5,668.9) rotate(-90)" font-size="63" class="p"><tspan font-size="67" dy="3.4">(</tspan><tspan dy="-3.4" dx="-0.9">103</tspan><tspan font-size="67" dy="3.4" dx="-0.9">)</tspan></text>
<text transform="translate(720.0,308.8) rotate(-90)" font-size="63" class="p"><tspan font-size="67" dy="3.4">(</tspan><tspan dy="-3.4" dx="-0.9">004</tspan><tspan font-size="67" dy="3.4" dx="-0.9">)</tspan></text>
<text transform="translate(843.0,681.1) rotate(-90)" font-size="63" class="p"><tspan font-size="67" dy="3.4">(</tspan><tspan dy="-3.4" dx="-0.9">112</tspan><tspan font-size="67" dy="3.4" dx="-0.9">)</tspan></text>
<text transform="translate(1121.0,689.5) rotate(-90)" font-size="63" class="p"><tspan font-size="67" dy="3.4">(</tspan><tspan dy="-3.4" dx="-0.9">200</tspan><tspan font-size="67" dy="3.4" dx="-0.9">)</tspan></text>
<text transform="translate(1309.5,493.2) rotate(-90)" font-size="63" class="p"><tspan font-size="67" dy="3.4">(</tspan><tspan dy="-3.4" dx="-0.9">105</tspan><tspan font-size="67" dy="3.4" dx="-0.9">)</tspan></text>
<text transform="translate(1378.4,689.5) rotate(-90)" font-size="63" class="p"><tspan font-size="67" dy="3.4">(</tspan><tspan dy="-3.4" dx="-0.9">221</tspan><tspan font-size="67" dy="3.4" dx="-0.9">)</tspan></text>
<text transform="translate(1610.0,650.9) rotate(-90)" font-size="63" class="p"><tspan font-size="67" dy="3.4">(</tspan><tspan dy="-3.4" dx="-0.9">204</tspan><tspan font-size="67" dy="3.4" dx="-0.9">)</tspan></text>
<text transform="translate(1802.5,641.9) rotate(-90)" font-size="63" class="p"><tspan font-size="67" dy="3.4">(</tspan><tspan dy="-3.4" dx="-0.9">116</tspan><tspan font-size="67" dy="3.4" dx="-0.9">)</tspan></text>
<text transform="translate(2018.4,652.1) rotate(-90)" font-size="63" class="p"><tspan font-size="67" dy="3.4">(</tspan><tspan dy="-3.4" dx="-0.9">215</tspan><tspan font-size="67" dy="3.4" dx="-0.9">)</tspan></text>
</svg>
</body></html>
